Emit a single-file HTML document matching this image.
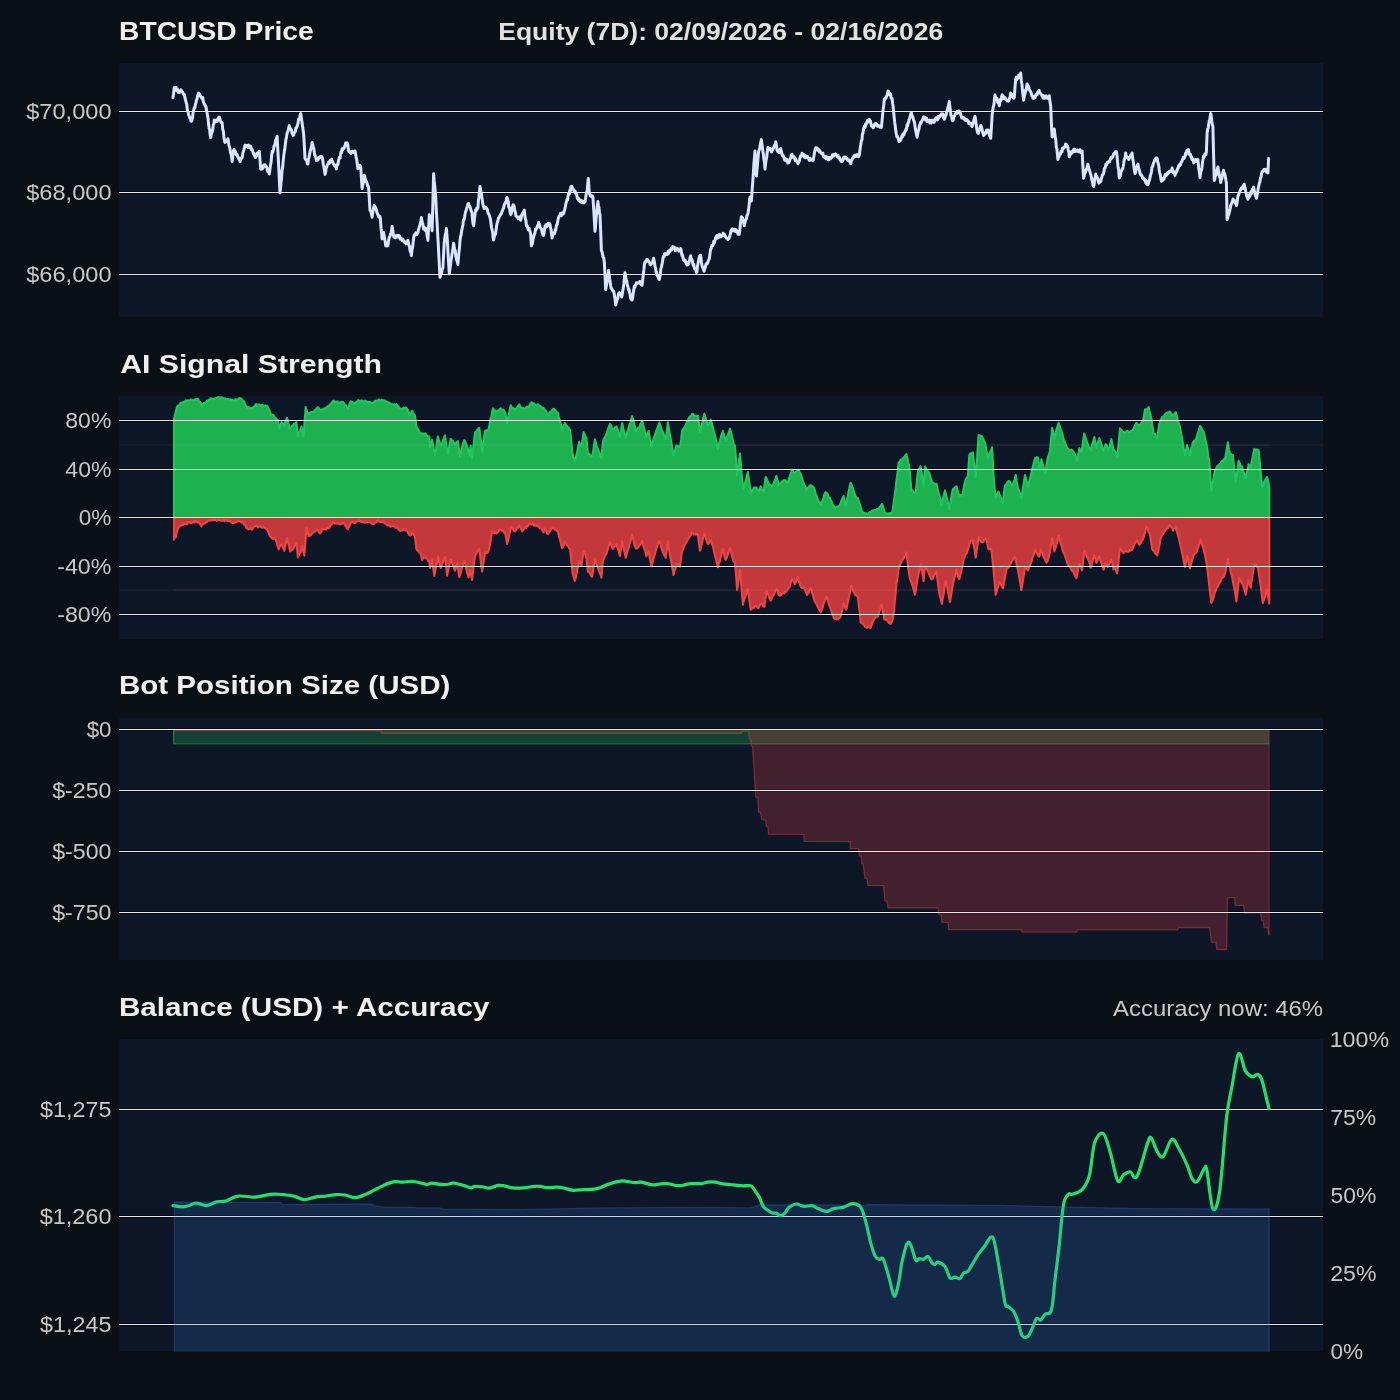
<!DOCTYPE html>
<html><head><meta charset="utf-8"><title>BTCUSD Equity</title>
<style>html,body{margin:0;padding:0;background:#0b0f16;width:1400px;height:1400px;overflow:hidden;font-family:"Liberation Sans",sans-serif}</style>
</head><body>
<svg width="1400" height="1400" viewBox="0 0 1400 1400" style="position:absolute;left:0;top:0">
<rect width="1400" height="1400" fill="#0b0f16"/>
<rect x="119" y="63" width="1204" height="254" fill="#0e1727"/>
<rect x="119" y="396" width="1204" height="243" fill="#0e1727"/>
<rect x="119" y="718" width="1204" height="242" fill="#0e1727"/>
<rect x="119" y="1039" width="1204" height="312" fill="#0e1727"/>
<clipPath id="c1"><rect x="119" y="63" width="1204" height="254"/></clipPath>
<rect x="119" y="110.0" width="1204" height="3" fill="#000308" fill-opacity="0.55"/>
<rect x="119" y="191.0" width="1204" height="3" fill="#000308" fill-opacity="0.55"/>
<rect x="119" y="273.0" width="1204" height="3" fill="#000308" fill-opacity="0.55"/>
<line x1="119" x2="1323" y1="111.5" y2="111.5" stroke="#e8e8e8" stroke-width="1.15"/>
<line x1="119" x2="1323" y1="192.5" y2="192.5" stroke="#e8e8e8" stroke-width="1.15"/>
<line x1="119" x2="1323" y1="274.5" y2="274.5" stroke="#e8e8e8" stroke-width="1.15"/>
<path d="M172.9,97.7 L173.6,93.4 L174.3,87.4 L174.8,88.5 L175.3,89.0 L175.8,87.5 L176.3,87.7 L176.8,90.7 L177.3,89.2 L177.8,89.5 L178.3,92.3 L178.8,91.0 L179.3,92.5 L179.9,91.2 L180.4,91.6 L181.0,89.9 L181.6,91.3 L182.1,91.9 L182.7,92.1 L183.3,94.1 L183.9,95.1 L184.4,94.5 L185.0,98.0 L185.6,100.3 L186.1,102.2 L186.7,104.2 L187.3,109.7 L187.9,111.3 L188.4,113.6 L188.9,115.5 L189.4,116.4 L189.9,118.5 L190.4,118.2 L190.9,121.0 L191.4,121.3 L192.0,120.3 L192.6,117.5 L193.1,112.4 L193.7,110.0 L194.3,107.7 L194.8,108.1 L195.4,104.4 L195.9,103.1 L196.4,100.1 L197.0,98.8 L197.5,96.4 L198.0,94.3 L198.6,93.1 L199.1,93.7 L199.6,95.4 L200.1,95.3 L200.6,96.7 L201.1,97.1 L201.6,98.1 L202.1,97.7 L202.7,97.5 L203.2,101.2 L203.8,102.9 L204.3,104.2 L204.8,104.5 L205.4,106.4 L205.9,106.2 L206.4,109.6 L207.0,112.5 L207.5,115.2 L208.0,118.2 L208.6,124.3 L209.1,128.4 L209.6,129.2 L210.2,135.2 L210.7,137.6 L211.2,134.4 L211.7,132.5 L212.2,131.7 L212.8,129.7 L213.3,124.7 L213.8,124.1 L214.3,120.0 L214.8,121.8 L215.3,120.3 L215.8,121.8 L216.3,121.8 L216.8,120.0 L217.3,121.3 L217.8,118.8 L218.3,117.8 L218.8,119.2 L219.3,117.1 L219.9,118.7 L220.4,120.6 L221.0,122.4 L221.6,122.0 L222.1,122.8 L222.7,129.2 L223.3,131.1 L223.9,136.9 L224.4,140.4 L225.0,142.5 L225.6,141.9 L226.1,141.2 L226.7,140.7 L227.3,139.7 L227.9,138.8 L228.4,141.6 L228.9,145.3 L229.5,146.6 L230.0,149.1 L230.5,152.7 L231.1,153.8 L231.6,156.7 L232.1,161.5 L232.9,155.1 L233.6,150.2 L234.1,149.3 L234.6,151.4 L235.1,152.7 L235.6,151.7 L236.1,154.5 L236.6,155.3 L237.1,154.3 L237.7,156.9 L238.2,157.2 L238.7,158.7 L239.2,158.5 L239.7,160.5 L240.2,161.4 L240.7,159.9 L241.2,158.1 L241.8,158.1 L242.3,157.0 L242.9,152.8 L243.4,151.5 L243.9,149.9 L244.5,147.1 L245.0,145.3 L245.5,145.2 L246.0,145.6 L246.6,146.4 L247.1,145.6 L247.6,146.0 L248.1,147.4 L248.6,145.1 L249.2,147.0 L249.7,147.6 L250.2,146.4 L250.7,146.3 L251.2,149.4 L251.8,148.8 L252.3,149.9 L252.9,151.9 L253.4,154.0 L253.9,153.4 L254.5,155.3 L255.0,156.6 L255.5,157.5 L256.1,155.5 L256.6,156.1 L257.1,153.2 L257.7,153.0 L258.2,153.3 L258.8,153.4 L259.3,151.3 L260.0,159.8 L260.7,168.8 L261.2,169.4 L261.8,167.6 L262.3,168.8 L262.9,168.2 L263.4,165.4 L263.9,165.0 L264.5,166.0 L265.0,164.7 L265.5,166.5 L266.1,166.3 L266.6,166.9 L267.1,168.6 L267.7,171.5 L268.2,171.1 L268.8,172.5 L269.3,174.0 L269.9,169.7 L270.4,165.4 L271.0,162.8 L271.6,156.0 L272.1,151.3 L272.6,152.6 L273.1,150.6 L273.6,149.3 L274.1,145.8 L274.6,145.7 L275.1,143.9 L275.6,140.0 L276.1,139.9 L276.6,138.5 L277.1,136.2 L277.7,147.5 L278.3,158.5 L278.9,170.3 L279.4,181.7 L280.0,192.9 L280.5,189.1 L281.0,182.6 L281.5,178.7 L282.0,170.8 L282.6,168.0 L283.1,161.8 L283.6,157.1 L284.1,153.3 L284.7,149.6 L285.3,144.8 L285.9,139.3 L286.4,137.9 L287.0,133.8 L287.6,131.9 L288.1,130.8 L288.7,128.1 L289.3,125.4 L289.8,128.4 L290.4,128.6 L290.9,129.0 L291.4,129.9 L292.0,133.1 L292.5,133.1 L293.0,135.4 L293.6,135.2 L294.1,133.0 L294.7,132.4 L295.3,131.6 L295.9,127.8 L296.4,128.1 L297.0,126.9 L297.5,124.9 L298.0,123.4 L298.6,119.1 L299.1,119.5 L299.6,118.7 L300.2,114.5 L300.7,113.6 L301.3,117.3 L301.9,121.8 L302.4,125.2 L303.0,129.1 L303.6,133.7 L304.3,144.8 L305.0,158.6 L305.6,159.4 L306.1,159.9 L306.7,160.3 L307.3,163.8 L307.9,164.0 L308.4,159.0 L308.9,157.9 L309.5,154.8 L310.0,152.3 L310.5,149.9 L311.1,148.3 L311.6,145.6 L312.1,142.4 L312.7,144.2 L313.2,147.0 L313.8,148.6 L314.3,152.3 L314.8,155.2 L315.4,156.4 L315.9,157.8 L316.4,160.4 L317.0,160.2 L317.6,160.0 L318.1,159.8 L318.7,157.6 L319.3,158.1 L319.9,157.4 L320.4,156.6 L321.0,156.3 L321.6,156.6 L322.1,157.1 L322.7,159.7 L323.3,164.2 L323.9,167.0 L324.4,169.9 L325.0,174.4 L325.6,172.6 L326.1,168.3 L326.7,167.2 L327.3,164.9 L327.9,164.1 L328.4,163.9 L328.9,161.7 L329.5,163.1 L330.0,162.4 L330.5,160.3 L331.1,160.6 L331.6,159.2 L332.1,161.0 L332.7,161.6 L333.2,163.4 L333.8,164.2 L334.3,164.8 L334.8,166.1 L335.4,166.6 L335.9,166.2 L336.4,168.9 L336.9,165.3 L337.5,164.1 L338.0,164.4 L338.5,160.4 L339.0,158.8 L339.5,157.2 L340.1,158.0 L340.6,154.0 L341.1,151.9 L341.6,152.8 L342.1,148.8 L342.6,150.3 L343.1,149.0 L343.6,148.7 L344.1,148.3 L344.6,146.3 L345.1,146.2 L345.6,143.0 L346.1,144.6 L346.6,143.0 L347.1,142.8 L347.7,143.6 L348.2,148.3 L348.8,151.6 L349.3,151.5 L349.8,152.2 L350.3,152.8 L350.8,153.5 L351.4,151.5 L351.9,151.2 L352.4,151.3 L352.9,152.3 L353.4,152.6 L354.0,151.3 L354.5,151.1 L355.0,151.1 L355.6,154.1 L356.1,157.5 L356.7,159.5 L357.3,164.0 L357.9,168.7 L358.4,166.6 L359.0,167.4 L359.6,165.2 L360.1,166.6 L360.7,166.5 L361.4,177.7 L362.1,188.6 L362.7,185.5 L363.2,183.0 L363.8,180.7 L364.3,175.3 L364.8,176.4 L365.4,179.7 L365.9,181.5 L366.4,181.5 L367.0,183.0 L367.5,185.7 L368.0,185.8 L368.6,187.8 L369.3,198.3 L370.0,210.3 L370.5,210.8 L371.1,212.0 L371.6,214.9 L372.1,217.2 L372.7,212.2 L373.2,210.7 L373.8,206.9 L374.3,205.4 L374.8,206.3 L375.4,207.1 L375.9,208.7 L376.4,209.9 L377.0,212.8 L377.5,213.9 L378.0,214.7 L378.6,216.7 L379.3,215.9 L380.0,216.6 L380.5,220.3 L381.1,228.7 L381.6,232.8 L382.1,238.9 L382.9,234.9 L383.6,232.5 L384.1,235.9 L384.6,238.4 L385.2,241.5 L385.7,245.7 L386.2,246.0 L386.8,244.3 L387.3,245.2 L387.9,245.8 L388.4,242.0 L388.9,239.1 L389.5,237.0 L390.0,236.4 L390.5,234.1 L391.1,232.9 L391.6,230.4 L392.1,226.3 L392.9,231.1 L393.6,236.4 L394.1,236.0 L394.6,237.4 L395.2,237.8 L395.7,237.7 L396.2,235.5 L396.8,237.2 L397.3,235.3 L397.9,235.5 L398.4,237.0 L399.0,235.5 L399.6,236.1 L400.1,239.1 L400.7,237.9 L401.2,238.6 L401.8,239.9 L402.3,240.7 L402.9,239.1 L403.4,240.7 L403.9,241.6 L404.5,242.3 L405.0,241.9 L405.6,242.8 L406.1,243.7 L406.7,241.7 L407.3,241.9 L407.9,240.2 L408.4,242.5 L408.9,245.6 L409.4,245.7 L409.9,250.0 L410.4,251.9 L410.9,251.2 L411.4,255.7 L412.0,249.9 L412.6,247.2 L413.1,243.1 L413.7,237.6 L414.3,234.8 L414.8,234.6 L415.3,234.9 L415.8,232.9 L416.3,234.3 L416.8,234.7 L417.3,233.6 L417.9,233.0 L418.4,229.6 L418.9,228.8 L419.4,226.3 L419.9,225.4 L420.4,223.2 L420.9,220.8 L421.4,217.6 L422.0,221.4 L422.5,223.6 L423.0,224.5 L423.6,229.1 L424.1,228.8 L424.7,227.5 L425.3,230.5 L425.9,228.4 L426.4,229.5 L427.1,235.7 L427.9,240.3 L428.6,227.3 L429.3,214.8 L429.9,217.3 L430.4,220.0 L431.0,222.7 L431.6,225.5 L432.1,230.7 L432.9,202.6 L433.6,173.7 L434.1,180.2 L434.6,184.9 L435.2,190.5 L435.7,196.8 L436.4,211.9 L437.1,222.8 L437.7,235.0 L438.3,244.9 L438.9,257.3 L439.4,266.7 L440.0,277.3 L440.6,275.4 L441.1,273.7 L441.7,272.3 L442.3,268.8 L442.9,268.3 L443.6,253.8 L444.3,242.1 L444.8,237.8 L445.4,234.1 L445.9,232.5 L446.4,228.6 L447.0,235.8 L447.6,244.9 L448.1,254.6 L448.7,264.6 L449.3,273.9 L449.8,270.1 L450.4,266.0 L450.9,261.0 L451.4,258.2 L452.0,254.0 L452.5,251.5 L453.0,248.1 L453.6,243.3 L454.1,246.0 L454.6,250.2 L455.2,250.3 L455.7,255.3 L456.2,258.0 L456.8,260.7 L457.3,261.4 L457.9,264.5 L458.4,258.5 L458.9,252.6 L459.5,247.6 L460.0,240.6 L460.6,236.2 L461.1,234.9 L461.7,230.5 L462.3,227.8 L462.9,225.0 L463.4,220.1 L464.0,220.0 L464.6,217.1 L465.1,214.0 L465.7,211.5 L466.3,209.7 L466.9,207.3 L467.4,206.8 L468.0,203.7 L468.6,203.6 L469.1,205.3 L469.7,206.0 L470.3,207.6 L470.9,210.2 L471.4,211.3 L472.0,213.1 L472.5,219.5 L473.0,223.3 L473.6,225.7 L474.1,222.4 L474.6,217.7 L475.2,212.9 L475.7,210.1 L476.2,210.7 L476.8,208.0 L477.3,209.0 L477.9,207.8 L478.4,200.4 L478.9,197.2 L479.5,190.9 L480.0,186.4 L480.5,188.9 L481.0,192.1 L481.5,194.0 L482.0,198.6 L482.6,202.2 L483.1,205.1 L483.6,206.9 L484.1,208.4 L484.6,207.9 L485.1,207.1 L485.6,207.3 L486.1,207.8 L486.6,208.6 L487.1,208.9 L487.7,211.4 L488.3,213.5 L488.9,214.4 L489.4,215.5 L490.0,217.6 L490.5,219.7 L491.0,223.4 L491.5,227.5 L492.0,229.5 L492.6,231.9 L493.1,237.4 L493.6,240.0 L494.1,237.3 L494.6,235.7 L495.2,234.6 L495.7,233.2 L496.2,228.8 L496.8,224.8 L497.3,222.3 L497.9,220.9 L498.4,218.0 L498.9,218.1 L499.5,216.3 L500.0,215.5 L500.5,214.5 L501.1,214.3 L501.6,212.7 L502.1,211.3 L502.6,210.1 L503.1,208.8 L503.6,208.3 L504.1,205.4 L504.6,203.8 L505.1,203.7 L505.6,202.1 L506.1,201.5 L506.6,197.9 L507.1,197.5 L507.7,200.1 L508.2,201.4 L508.7,207.0 L509.2,207.2 L509.7,209.3 L510.2,213.1 L510.7,214.6 L511.3,213.8 L511.9,210.7 L512.4,207.7 L513.0,205.1 L513.6,205.0 L514.1,206.1 L514.7,210.3 L515.3,211.9 L515.9,216.0 L516.4,216.5 L517.0,216.5 L517.5,216.8 L518.0,218.7 L518.6,218.3 L519.1,217.5 L519.6,216.9 L520.2,219.0 L520.7,220.1 L521.2,217.8 L521.7,214.9 L522.2,214.0 L522.8,213.2 L523.3,212.4 L523.8,211.0 L524.3,210.0 L524.8,215.1 L525.4,219.1 L525.9,220.1 L526.4,225.8 L527.0,225.3 L527.5,227.4 L528.0,228.8 L528.6,230.0 L529.1,228.2 L529.6,230.1 L530.2,232.1 L530.7,234.3 L531.4,245.8 L531.9,244.2 L532.4,243.8 L533.0,239.2 L533.5,237.8 L534.0,235.4 L534.5,234.2 L535.0,232.8 L535.5,229.2 L536.0,229.7 L536.5,228.5 L537.0,227.6 L537.6,225.5 L538.1,225.4 L538.6,222.4 L539.1,223.9 L539.6,224.6 L540.1,227.6 L540.6,227.9 L541.1,228.5 L541.6,229.5 L542.1,232.6 L542.6,233.5 L543.1,235.1 L543.6,235.4 L544.3,231.4 L545.0,226.0 L545.5,227.4 L546.0,224.8 L546.5,225.8 L547.0,226.3 L547.5,225.6 L548.0,223.3 L548.5,223.3 L549.0,224.8 L549.5,223.7 L550.0,224.1 L550.5,227.6 L551.1,229.8 L551.6,234.8 L552.1,237.9 L552.7,235.6 L553.2,234.7 L553.7,232.7 L554.2,232.7 L554.7,233.5 L555.2,229.8 L555.7,230.2 L556.2,226.7 L556.7,224.6 L557.2,224.4 L557.8,221.0 L558.3,218.4 L558.8,216.6 L559.3,216.2 L559.8,215.6 L560.4,213.4 L560.9,213.8 L561.4,215.8 L562.0,213.0 L562.5,213.8 L563.0,213.0 L563.6,213.8 L564.1,211.2 L564.7,209.8 L565.3,207.0 L565.9,203.9 L566.4,201.8 L567.0,199.5 L567.6,199.9 L568.1,195.6 L568.7,193.3 L569.3,194.3 L569.8,190.3 L570.4,190.9 L570.9,186.7 L571.4,186.3 L571.9,186.3 L572.4,188.9 L573.0,188.9 L573.5,189.7 L574.0,190.8 L574.5,191.9 L575.0,190.9 L575.6,193.2 L576.1,194.1 L576.7,194.5 L577.3,198.2 L577.9,198.9 L578.4,200.1 L578.9,198.7 L579.5,200.3 L580.0,200.6 L580.5,202.0 L581.1,200.4 L581.6,201.8 L582.1,202.8 L582.7,201.2 L583.3,202.5 L583.9,202.8 L584.4,201.5 L585.0,201.9 L585.5,198.9 L586.1,194.8 L586.6,192.4 L587.1,191.6 L587.7,183.8 L588.3,178.4 L588.8,185.1 L589.3,193.4 L589.8,193.4 L590.3,196.1 L590.8,195.6 L591.3,196.3 L591.8,196.9 L592.3,195.9 L592.9,197.1 L593.4,204.4 L593.9,212.6 L594.5,222.9 L595.0,231.3 L595.6,225.4 L596.1,217.9 L596.7,212.9 L597.3,205.7 L597.9,201.6 L598.4,205.3 L598.9,207.2 L599.5,213.2 L600.0,214.7 L600.7,231.6 L601.4,250.7 L602.0,251.6 L602.6,254.6 L603.1,257.3 L603.7,257.7 L604.3,262.2 L605.0,275.0 L605.7,289.8 L606.3,285.8 L606.9,283.3 L607.4,279.6 L608.0,274.5 L608.6,270.2 L609.1,274.7 L609.6,279.0 L610.2,281.9 L610.7,286.0 L611.3,288.6 L611.9,288.9 L612.4,290.4 L613.0,291.0 L613.6,291.2 L614.1,293.3 L614.6,296.4 L615.2,300.6 L615.7,304.9 L616.2,303.1 L616.7,301.3 L617.2,298.7 L617.8,298.4 L618.3,294.6 L618.8,293.2 L619.3,292.7 L619.9,293.6 L620.4,293.1 L621.0,294.0 L621.6,297.0 L622.1,295.6 L622.7,291.4 L623.3,288.1 L623.9,283.5 L624.4,277.8 L625.0,272.8 L625.6,275.6 L626.1,279.7 L626.7,281.0 L627.3,285.0 L627.9,286.6 L628.4,289.8 L629.0,289.4 L629.6,292.4 L630.1,294.4 L630.7,298.4 L631.4,299.5 L632.1,300.0 L632.7,298.0 L633.2,293.0 L633.8,290.1 L634.3,286.3 L634.8,287.4 L635.4,285.5 L635.9,284.2 L636.4,282.8 L637.0,283.3 L637.5,283.3 L638.0,282.7 L638.6,282.7 L639.1,282.8 L639.6,281.4 L640.1,281.5 L640.6,283.9 L641.1,284.4 L641.6,283.9 L642.1,285.3 L642.7,279.9 L643.3,274.4 L643.9,269.5 L644.4,264.5 L645.0,261.9 L645.6,262.1 L646.1,261.6 L646.7,259.6 L647.3,259.7 L647.9,259.9 L648.4,261.0 L649.0,261.8 L649.6,262.6 L650.1,264.3 L650.7,264.7 L651.3,263.3 L651.9,263.4 L652.4,263.0 L653.0,260.2 L653.6,258.3 L654.1,260.5 L654.6,263.3 L655.1,266.9 L655.6,268.2 L656.1,272.3 L656.6,272.2 L657.1,275.1 L657.7,276.5 L658.2,276.9 L658.8,279.0 L659.3,279.6 L659.8,277.1 L660.4,273.2 L660.9,268.5 L661.4,267.4 L662.0,264.4 L662.5,261.4 L663.0,257.9 L663.6,256.4 L664.1,256.6 L664.6,253.7 L665.1,255.1 L665.6,253.7 L666.2,253.8 L666.7,254.6 L667.2,254.5 L667.7,253.1 L668.2,251.2 L668.8,253.2 L669.3,250.4 L669.8,250.4 L670.3,251.3 L670.8,249.0 L671.3,248.2 L671.8,249.8 L672.3,249.2 L672.9,246.6 L673.4,247.2 L673.9,247.3 L674.4,247.2 L674.9,248.0 L675.4,250.7 L675.9,248.2 L676.4,249.1 L677.0,249.0 L677.5,248.7 L678.0,250.1 L678.6,250.8 L679.1,251.1 L679.6,250.4 L680.2,251.0 L680.7,248.4 L681.3,251.3 L681.9,255.5 L682.4,254.6 L683.0,257.3 L683.6,259.9 L684.1,259.8 L684.6,261.2 L685.2,260.2 L685.7,261.3 L686.2,264.1 L686.8,262.1 L687.3,265.0 L687.9,263.3 L688.4,264.4 L689.0,262.0 L689.6,260.5 L690.1,257.4 L690.7,255.7 L691.2,259.4 L691.8,259.0 L692.3,260.4 L692.8,263.9 L693.3,265.5 L693.8,264.3 L694.4,268.6 L694.9,268.7 L695.4,269.6 L695.9,270.2 L696.4,272.5 L696.9,271.8 L697.4,266.8 L698.0,263.7 L698.5,261.1 L699.0,258.4 L699.5,256.5 L700.0,255.6 L700.5,255.3 L701.0,258.0 L701.5,262.7 L702.0,265.3 L702.6,267.6 L703.1,267.6 L703.6,270.2 L704.1,271.1 L704.6,268.5 L705.1,268.1 L705.6,265.7 L706.2,263.7 L706.7,263.6 L707.2,263.8 L707.7,262.8 L708.2,261.0 L708.8,259.6 L709.3,258.7 L710.0,253.4 L710.7,248.7 L711.2,248.6 L711.8,245.5 L712.3,245.8 L712.8,245.8 L713.3,244.5 L713.8,241.3 L714.4,242.8 L714.9,241.3 L715.4,238.2 L715.9,237.4 L716.4,236.2 L716.9,235.5 L717.4,238.3 L718.0,236.2 L718.5,237.5 L719.0,234.9 L719.5,234.4 L720.0,236.9 L720.5,236.5 L721.0,236.9 L721.5,235.7 L722.0,235.0 L722.6,235.5 L723.1,233.2 L723.6,234.4 L724.1,234.8 L724.6,234.6 L725.2,236.7 L725.7,236.6 L726.2,237.9 L726.8,238.2 L727.3,238.7 L727.9,239.5 L728.4,238.9 L728.9,238.7 L729.4,237.1 L729.9,235.4 L730.4,233.9 L730.9,230.7 L731.4,231.5 L731.9,229.3 L732.4,228.8 L732.9,230.0 L733.4,230.7 L733.9,229.5 L734.4,230.5 L734.9,229.3 L735.4,231.5 L735.9,229.8 L736.4,229.9 L737.0,231.0 L737.6,232.9 L738.1,234.1 L738.7,233.5 L739.3,234.1 L739.8,230.0 L740.4,223.6 L740.9,220.1 L741.4,216.8 L742.0,218.3 L742.6,217.7 L743.1,222.0 L743.7,222.2 L744.3,225.8 L745.0,222.4 L745.5,220.1 L746.0,219.3 L746.5,218.6 L747.0,215.3 L747.6,214.8 L748.1,212.5 L748.6,209.6 L749.3,202.9 L750.0,197.2 L750.7,199.0 L751.4,201.0 L752.1,190.5 L752.9,179.8 L753.4,172.1 L753.9,163.9 L754.5,157.3 L755.0,151.0 L755.7,164.7 L756.4,176.0 L757.0,169.7 L757.5,164.4 L758.0,158.2 L758.6,151.4 L759.1,150.1 L759.7,148.5 L760.3,144.4 L760.9,142.2 L761.4,139.6 L762.1,145.4 L762.9,151.3 L763.4,154.3 L763.9,159.5 L764.5,162.2 L765.0,169.1 L765.6,163.6 L766.1,160.1 L766.7,157.5 L767.3,151.7 L767.9,147.6 L768.4,150.0 L768.9,149.6 L769.5,148.3 L770.0,148.5 L770.5,149.9 L771.1,149.1 L771.6,152.1 L772.1,150.4 L772.7,149.4 L773.2,148.4 L773.7,147.5 L774.2,145.9 L774.7,145.2 L775.2,144.0 L775.7,141.9 L776.2,143.5 L776.8,149.0 L777.3,150.8 L777.9,151.5 L778.4,152.1 L779.0,152.5 L779.6,152.7 L780.1,149.2 L780.7,148.4 L781.2,151.2 L781.7,152.2 L782.2,154.9 L782.8,155.9 L783.3,155.6 L783.8,157.1 L784.3,158.8 L784.8,160.2 L785.3,158.5 L785.8,159.5 L786.3,159.0 L786.8,161.2 L787.3,159.6 L787.8,163.0 L788.3,162.1 L788.8,162.7 L789.3,161.5 L789.8,159.9 L790.4,158.5 L790.9,157.6 L791.4,154.4 L792.0,154.3 L792.5,157.3 L793.0,156.9 L793.6,157.2 L794.1,156.9 L794.6,157.9 L795.2,160.6 L795.7,158.8 L796.2,160.8 L796.8,161.8 L797.3,161.7 L797.9,163.7 L798.4,163.1 L798.9,161.9 L799.5,160.4 L800.0,157.6 L800.5,156.1 L801.1,156.2 L801.6,154.8 L802.1,153.3 L802.7,155.8 L803.2,154.1 L803.8,156.4 L804.3,157.1 L804.8,154.9 L805.4,157.8 L805.9,156.5 L806.4,156.2 L807.0,156.5 L807.5,156.4 L808.0,158.2 L808.6,158.2 L809.1,160.1 L809.6,160.4 L810.2,158.2 L810.7,159.7 L811.2,160.0 L811.8,159.7 L812.3,160.3 L812.9,160.7 L813.4,159.3 L814.0,155.5 L814.6,152.0 L815.1,149.7 L815.7,147.7 L816.2,148.5 L816.7,147.9 L817.2,149.8 L817.7,148.7 L818.2,150.5 L818.7,150.8 L819.2,149.8 L819.7,152.1 L820.2,151.4 L820.7,152.3 L821.2,153.1 L821.8,153.8 L822.3,153.8 L822.9,153.2 L823.4,156.2 L823.9,157.0 L824.5,156.5 L825.0,157.4 L825.5,156.5 L826.0,158.7 L826.5,158.2 L827.0,156.8 L827.5,158.9 L828.0,159.6 L828.5,157.6 L829.0,159.9 L829.5,158.4 L830.0,157.5 L830.5,158.8 L831.0,157.1 L831.5,157.8 L832.0,156.8 L832.5,154.8 L833.0,155.7 L833.5,156.2 L834.0,154.5 L834.5,154.2 L835.0,154.7 L835.5,153.9 L836.0,154.6 L836.5,155.4 L837.0,156.6 L837.6,155.2 L838.1,155.3 L838.6,158.0 L839.1,157.8 L839.6,157.5 L840.1,159.9 L840.6,160.4 L841.1,159.8 L841.6,161.8 L842.1,161.8 L842.7,160.8 L843.3,158.6 L843.9,157.0 L844.4,158.4 L845.0,157.9 L845.5,157.2 L846.0,158.1 L846.6,158.9 L847.1,158.4 L847.6,160.4 L848.1,160.5 L848.6,160.4 L849.2,160.0 L849.7,162.0 L850.2,161.8 L850.7,163.6 L851.3,160.7 L851.9,160.2 L852.4,158.5 L853.0,158.0 L853.6,157.4 L854.1,155.7 L854.6,155.3 L855.1,156.5 L855.6,155.4 L856.2,156.2 L856.7,154.9 L857.2,154.5 L857.7,155.7 L858.2,156.7 L858.8,156.4 L859.3,155.0 L859.8,151.3 L860.4,146.8 L860.9,144.1 L861.4,140.8 L862.0,139.6 L862.5,133.8 L863.0,133.2 L863.6,128.5 L864.1,127.5 L864.6,126.0 L865.1,127.3 L865.6,123.9 L866.2,124.3 L866.7,123.2 L867.2,121.2 L867.7,120.4 L868.2,121.9 L868.8,120.4 L869.3,119.3 L869.9,121.6 L870.4,120.7 L871.0,124.4 L871.6,126.2 L872.1,126.3 L872.7,126.6 L873.2,127.8 L873.7,125.4 L874.2,126.3 L874.7,124.0 L875.2,125.2 L875.7,123.5 L876.2,124.6 L876.8,124.4 L877.3,126.2 L877.8,126.1 L878.3,125.6 L878.8,126.4 L879.4,125.9 L879.9,127.3 L880.4,125.8 L880.9,127.0 L881.4,127.4 L882.0,121.4 L882.6,114.8 L883.1,109.8 L883.7,105.9 L884.3,99.1 L884.8,99.8 L885.4,97.9 L885.9,98.2 L886.4,96.8 L887.0,95.4 L887.5,93.2 L888.0,91.0 L888.6,91.6 L889.1,93.2 L889.6,94.8 L890.1,93.5 L890.6,94.4 L891.1,98.1 L891.6,98.3 L892.1,98.5 L892.7,104.0 L893.2,106.8 L893.7,112.8 L894.2,117.9 L894.7,122.4 L895.2,125.7 L895.7,130.3 L896.3,133.8 L896.9,136.7 L897.4,136.3 L898.0,137.9 L898.6,140.1 L899.1,141.6 L899.6,139.7 L900.2,139.1 L900.7,140.2 L901.2,138.2 L901.8,136.4 L902.3,137.1 L902.9,134.1 L903.4,134.3 L903.9,134.9 L904.5,132.5 L905.0,131.4 L905.5,131.3 L906.0,129.0 L906.5,129.5 L907.0,125.1 L907.6,125.7 L908.1,122.7 L908.6,122.4 L909.1,119.5 L909.7,118.5 L910.3,115.7 L910.9,113.7 L911.4,112.7 L912.0,115.8 L912.6,116.4 L913.1,118.0 L913.7,120.6 L914.3,121.6 L914.9,125.3 L915.4,129.1 L916.0,132.0 L916.6,135.2 L917.1,137.2 L917.7,133.6 L918.3,130.9 L918.9,129.2 L919.4,126.0 L920.0,124.5 L920.5,122.5 L921.0,123.1 L921.5,121.5 L922.0,120.7 L922.6,119.9 L923.1,118.2 L923.6,116.9 L924.3,117.2 L925.0,117.2 L925.5,119.9 L926.1,119.3 L926.6,118.4 L927.1,121.4 L927.7,120.6 L928.2,121.1 L928.8,120.9 L929.3,120.2 L929.8,123.0 L930.4,120.4 L930.9,121.0 L931.4,123.0 L932.0,120.2 L932.5,121.4 L933.0,121.4 L933.6,120.6 L934.1,122.4 L934.6,120.4 L935.1,118.7 L935.6,119.8 L936.2,117.9 L936.7,119.8 L937.2,119.9 L937.7,119.6 L938.2,116.5 L938.8,118.1 L939.3,116.5 L939.9,116.5 L940.4,115.4 L941.0,114.8 L941.6,113.7 L942.1,114.7 L942.7,113.8 L943.3,117.5 L943.9,115.4 L944.4,119.2 L945.0,117.6 L945.6,115.0 L946.1,114.8 L946.7,111.8 L947.3,110.3 L947.9,107.2 L948.6,105.4 L949.3,101.5 L949.9,107.1 L950.4,110.3 L951.0,115.5 L951.6,116.1 L952.1,120.0 L952.7,120.6 L953.3,119.9 L953.9,116.9 L954.4,116.4 L955.0,114.5 L955.5,113.6 L956.1,113.5 L956.6,113.5 L957.1,111.3 L957.7,111.9 L958.2,112.9 L958.8,111.0 L959.3,111.3 L959.8,111.7 L960.3,113.0 L960.8,115.0 L961.3,116.3 L961.8,118.0 L962.3,117.5 L962.9,117.6 L963.4,118.3 L963.9,117.7 L964.4,118.6 L964.9,120.0 L965.4,120.4 L965.9,119.5 L966.4,119.6 L966.9,119.6 L967.4,120.1 L967.9,121.4 L968.4,121.2 L968.9,123.7 L969.5,123.2 L970.0,123.1 L970.5,123.9 L971.1,123.2 L971.6,125.9 L972.1,126.5 L972.7,123.6 L973.3,123.0 L973.9,119.8 L974.4,118.0 L975.0,116.3 L975.6,119.6 L976.1,124.3 L976.7,127.9 L977.3,131.6 L977.9,133.0 L978.4,133.4 L979.0,130.8 L979.6,128.8 L980.1,127.4 L980.7,125.5 L981.3,126.5 L981.9,128.8 L982.4,131.3 L983.0,133.3 L983.6,135.6 L984.1,132.8 L984.6,134.5 L985.2,133.6 L985.7,132.8 L986.2,133.1 L986.8,129.9 L987.3,131.4 L987.9,131.3 L988.4,130.2 L989.0,133.2 L989.6,135.7 L990.1,135.1 L990.7,138.3 L991.4,127.7 L992.1,115.5 L992.7,110.6 L993.3,106.8 L993.9,104.8 L994.4,99.5 L995.0,95.1 L995.5,96.6 L996.1,99.2 L996.6,98.1 L997.1,98.5 L997.7,102.5 L998.2,101.6 L998.8,102.8 L999.3,105.8 L999.9,101.9 L1000.4,99.5 L1001.0,100.4 L1001.6,96.6 L1002.1,94.8 L1002.7,97.6 L1003.2,95.9 L1003.7,98.6 L1004.2,97.3 L1004.7,97.7 L1005.3,97.9 L1005.8,99.5 L1006.3,100.1 L1006.8,100.1 L1007.3,100.9 L1007.9,100.8 L1008.4,101.1 L1009.0,100.0 L1009.6,98.0 L1010.1,96.7 L1010.7,92.9 L1011.2,93.9 L1011.7,94.2 L1012.2,94.4 L1012.8,97.4 L1013.3,97.6 L1013.8,98.1 L1014.3,97.3 L1015.0,87.0 L1015.7,79.1 L1016.2,77.4 L1016.7,79.6 L1017.2,77.0 L1017.7,76.6 L1018.2,78.2 L1018.7,75.3 L1019.2,77.1 L1019.7,74.7 L1020.2,75.3 L1020.7,73.0 L1021.3,80.7 L1021.9,84.2 L1022.4,89.2 L1023.0,95.4 L1023.6,100.3 L1024.1,97.1 L1024.6,94.5 L1025.1,93.8 L1025.6,89.9 L1026.1,90.5 L1026.6,86.6 L1027.1,83.9 L1027.7,85.6 L1028.2,86.0 L1028.8,87.8 L1029.3,89.7 L1029.8,90.4 L1030.4,91.3 L1030.9,92.2 L1031.4,94.0 L1032.0,96.1 L1032.5,96.1 L1033.0,98.3 L1033.6,98.5 L1034.1,96.6 L1034.6,96.1 L1035.1,97.5 L1035.6,95.6 L1036.1,94.6 L1036.6,94.3 L1037.1,94.7 L1037.6,92.5 L1038.1,91.7 L1038.6,91.0 L1039.1,90.4 L1039.6,92.7 L1040.1,93.1 L1040.6,93.7 L1041.1,94.1 L1041.6,94.8 L1042.1,96.1 L1042.6,95.0 L1043.1,98.1 L1043.6,95.9 L1044.1,98.3 L1044.6,96.1 L1045.1,98.1 L1045.6,96.4 L1046.2,95.8 L1046.7,97.3 L1047.2,98.2 L1047.7,98.2 L1048.2,98.3 L1048.8,98.7 L1049.3,95.7 L1050.0,101.8 L1050.7,105.9 L1051.4,123.0 L1052.1,137.0 L1052.7,135.8 L1053.2,133.8 L1053.8,132.3 L1054.3,129.1 L1054.8,134.1 L1055.3,137.3 L1055.8,140.1 L1056.3,147.0 L1056.8,148.7 L1057.3,153.0 L1057.9,159.6 L1058.4,156.8 L1058.9,157.0 L1059.4,153.9 L1059.9,153.5 L1060.5,154.1 L1061.0,150.9 L1061.5,151.3 L1062.0,151.7 L1062.5,148.3 L1063.1,148.8 L1063.6,147.9 L1064.1,147.1 L1064.6,147.2 L1065.1,146.6 L1065.6,144.0 L1066.1,144.1 L1066.6,144.8 L1067.1,145.8 L1067.7,146.2 L1068.2,150.3 L1068.8,151.7 L1069.3,156.8 L1069.8,154.8 L1070.4,154.4 L1070.9,154.1 L1071.4,151.7 L1072.0,152.9 L1072.5,152.4 L1073.0,151.9 L1073.6,149.3 L1074.1,149.2 L1074.6,149.1 L1075.1,151.5 L1075.6,150.1 L1076.1,150.1 L1076.6,150.6 L1077.1,151.2 L1077.6,150.1 L1078.1,150.2 L1078.6,151.7 L1079.1,151.8 L1079.6,150.4 L1080.1,149.7 L1080.6,152.5 L1081.1,152.0 L1081.6,151.6 L1082.1,151.1 L1082.9,166.5 L1083.6,178.3 L1084.1,175.9 L1084.6,173.7 L1085.2,172.7 L1085.7,171.8 L1086.2,169.2 L1086.8,169.3 L1087.3,166.6 L1087.9,164.2 L1088.4,166.8 L1089.0,168.6 L1089.6,170.7 L1090.1,172.3 L1090.7,174.4 L1091.3,176.8 L1091.9,180.5 L1092.4,181.0 L1093.0,185.5 L1093.6,186.5 L1094.1,185.0 L1094.6,179.3 L1095.2,177.5 L1095.7,174.1 L1096.2,176.4 L1096.7,176.2 L1097.2,177.8 L1097.8,178.8 L1098.3,181.6 L1098.8,183.1 L1099.3,182.7 L1099.8,181.8 L1100.3,180.5 L1100.8,181.5 L1101.3,178.4 L1101.8,177.4 L1102.3,175.0 L1102.9,174.8 L1103.4,173.9 L1103.9,172.0 L1104.4,168.4 L1104.9,168.4 L1105.4,167.1 L1105.9,164.3 L1106.4,165.2 L1106.9,163.1 L1107.4,162.4 L1108.0,162.8 L1108.5,162.1 L1109.0,161.2 L1109.5,161.8 L1110.0,160.1 L1110.5,158.9 L1111.0,157.4 L1111.5,158.3 L1112.0,157.1 L1112.6,157.1 L1113.1,155.8 L1113.6,154.1 L1114.1,153.4 L1114.7,152.9 L1115.3,151.8 L1115.9,153.4 L1116.4,151.7 L1117.0,155.7 L1117.6,162.4 L1118.1,167.3 L1118.7,170.6 L1119.3,177.9 L1119.9,174.8 L1120.4,175.9 L1121.0,171.7 L1121.6,170.7 L1122.1,169.2 L1122.7,168.9 L1123.2,166.5 L1123.7,163.5 L1124.2,159.9 L1124.7,158.5 L1125.2,157.2 L1125.7,152.9 L1126.2,156.2 L1126.7,156.6 L1127.2,157.5 L1127.8,157.4 L1128.3,157.7 L1128.8,159.5 L1129.3,157.8 L1129.9,157.1 L1130.4,155.7 L1131.0,155.0 L1131.6,156.1 L1132.1,153.0 L1132.7,158.8 L1133.3,161.4 L1133.9,166.6 L1134.4,170.0 L1135.0,173.5 L1135.6,172.2 L1136.1,168.0 L1136.7,167.0 L1137.3,165.6 L1137.9,164.1 L1138.4,166.8 L1139.0,169.5 L1139.6,171.1 L1140.1,173.7 L1140.7,174.9 L1141.3,174.7 L1141.9,176.0 L1142.4,177.7 L1143.0,178.7 L1143.6,178.2 L1144.1,178.8 L1144.6,180.4 L1145.2,179.8 L1145.7,182.7 L1146.2,180.9 L1146.8,184.0 L1147.3,184.6 L1147.9,184.7 L1148.4,183.7 L1148.9,181.2 L1149.4,180.6 L1149.9,178.1 L1150.5,175.0 L1151.0,173.7 L1151.5,171.5 L1152.0,167.0 L1152.5,166.9 L1153.1,164.7 L1153.6,163.0 L1154.1,161.7 L1154.6,160.1 L1155.1,159.0 L1155.6,159.9 L1156.1,158.0 L1156.6,159.2 L1157.1,158.1 L1157.7,161.8 L1158.2,163.3 L1158.8,166.1 L1159.3,170.9 L1159.8,173.1 L1160.4,175.1 L1160.9,178.7 L1161.4,181.2 L1161.9,181.1 L1162.4,179.8 L1163.0,178.3 L1163.5,179.7 L1164.0,178.6 L1164.5,177.4 L1165.0,175.0 L1165.5,174.3 L1166.0,175.5 L1166.5,175.4 L1167.0,174.4 L1167.6,172.5 L1168.1,173.7 L1168.6,172.6 L1169.1,171.6 L1169.6,171.9 L1170.1,171.0 L1170.6,171.1 L1171.1,171.0 L1171.6,171.3 L1172.1,168.0 L1172.7,170.5 L1173.3,172.7 L1173.9,172.8 L1174.4,173.5 L1175.0,175.4 L1175.5,171.7 L1176.0,173.1 L1176.6,171.6 L1177.1,170.4 L1177.6,168.5 L1178.1,168.4 L1178.6,165.8 L1179.2,166.1 L1179.7,164.2 L1180.2,165.3 L1180.7,163.8 L1181.2,161.9 L1181.8,161.9 L1182.3,159.8 L1182.9,159.4 L1183.4,157.3 L1183.9,158.6 L1184.5,157.5 L1185.0,156.5 L1185.6,153.2 L1186.1,154.5 L1186.7,150.7 L1187.3,151.4 L1187.9,150.0 L1188.4,149.6 L1188.9,151.8 L1189.4,154.4 L1189.9,154.6 L1190.5,154.6 L1191.0,157.2 L1191.5,156.8 L1192.0,159.6 L1192.5,159.0 L1193.1,159.0 L1193.6,162.9 L1194.1,159.9 L1194.6,160.3 L1195.2,161.8 L1195.7,159.5 L1196.2,160.7 L1196.8,161.5 L1197.3,160.5 L1197.9,159.5 L1198.4,165.1 L1198.9,169.6 L1199.5,173.1 L1200.0,177.5 L1200.5,173.7 L1201.0,171.1 L1201.5,170.1 L1202.0,167.2 L1202.6,161.3 L1203.1,159.0 L1203.6,156.3 L1204.1,157.2 L1204.7,154.5 L1205.3,153.5 L1205.9,154.6 L1206.4,151.8 L1207.1,133.0 L1207.7,128.8 L1208.2,127.8 L1208.7,125.1 L1209.2,120.7 L1209.7,120.1 L1210.2,116.5 L1210.7,113.4 L1211.2,116.0 L1211.8,121.4 L1212.3,124.1 L1212.9,126.5 L1213.6,155.4 L1214.3,180.5 L1214.8,179.3 L1215.3,176.2 L1215.8,175.1 L1216.3,174.9 L1216.8,171.7 L1217.3,168.7 L1217.9,167.0 L1218.4,171.0 L1219.0,172.6 L1219.6,177.2 L1220.1,177.3 L1220.7,182.6 L1221.3,179.8 L1221.9,178.5 L1222.4,175.0 L1223.0,172.0 L1223.6,170.4 L1224.1,173.8 L1224.7,173.9 L1225.3,176.2 L1225.9,180.3 L1226.4,182.6 L1227.1,219.7 L1227.7,218.0 L1228.2,215.5 L1228.7,214.9 L1229.2,212.7 L1229.7,210.6 L1230.2,208.5 L1230.7,205.6 L1231.3,204.1 L1231.9,202.9 L1232.4,201.9 L1233.0,199.1 L1233.6,200.1 L1234.1,200.0 L1234.7,201.6 L1235.3,203.3 L1235.9,202.3 L1236.4,205.5 L1237.0,203.2 L1237.6,198.4 L1238.1,195.4 L1238.7,195.0 L1239.3,192.7 L1239.8,191.8 L1240.3,190.0 L1240.8,190.0 L1241.3,187.9 L1241.8,187.7 L1242.3,187.7 L1242.8,188.2 L1243.3,185.5 L1243.8,187.7 L1244.3,184.2 L1244.8,189.1 L1245.3,188.5 L1245.8,192.2 L1246.3,194.1 L1246.8,196.4 L1247.3,196.6 L1247.9,199.2 L1248.4,197.0 L1248.9,197.8 L1249.4,194.6 L1249.9,196.2 L1250.5,194.3 L1251.0,191.7 L1251.5,193.6 L1252.0,190.7 L1252.5,189.0 L1253.1,188.7 L1253.6,187.1 L1254.1,189.6 L1254.7,192.7 L1255.3,195.3 L1255.9,195.8 L1256.4,198.3 L1257.0,195.6 L1257.6,192.7 L1258.1,189.1 L1258.7,186.1 L1259.3,183.2 L1259.9,181.9 L1260.4,178.2 L1261.0,177.3 L1261.6,173.4 L1262.1,171.7 L1262.7,171.3 L1263.3,171.3 L1263.9,169.5 L1264.4,169.5 L1265.0,170.6 L1265.6,169.4 L1266.1,171.1 L1266.7,172.3 L1267.3,170.8 L1267.9,172.9 L1268.6,158.6" fill="none" stroke="#dae4fc" stroke-width="3.0" stroke-linejoin="round" stroke-linecap="round"/>
<line x1="119" x2="1323" y1="445.0" y2="445.0" stroke="#171e2b" stroke-width="2"/>
<line x1="119" x2="1323" y1="590.0" y2="590.0" stroke="#171e2b" stroke-width="2"/>
<rect x="119" y="419.0" width="1204" height="3" fill="#000308" fill-opacity="0.55"/>
<rect x="119" y="468.0" width="1204" height="3" fill="#000308" fill-opacity="0.55"/>
<rect x="119" y="516.0" width="1204" height="3" fill="#000308" fill-opacity="0.55"/>
<rect x="119" y="565.0" width="1204" height="3" fill="#000308" fill-opacity="0.55"/>
<rect x="119" y="613.0" width="1204" height="3" fill="#000308" fill-opacity="0.55"/>
<path d="M174.0,517.4 L174.0,418.8 L175.0,414.7 L176.1,410.5 L177.1,406.5 L178.3,405.4 L179.5,405.0 L180.7,402.7 L181.7,402.8 L182.6,402.9 L183.6,401.7 L184.6,402.0 L185.7,400.4 L186.8,400.8 L187.9,400.3 L188.8,400.7 L189.8,400.6 L190.7,399.5 L191.7,399.7 L192.6,399.7 L193.6,400.7 L194.6,400.3 L195.7,399.0 L196.8,400.0 L197.9,398.6 L198.9,401.1 L200.0,401.8 L201.1,403.2 L202.1,406.4 L203.1,404.0 L204.0,402.8 L205.0,403.0 L206.0,402.2 L206.9,400.6 L207.9,401.2 L208.8,399.8 L209.8,399.5 L210.7,398.0 L211.7,399.3 L212.6,398.8 L213.6,399.2 L214.5,399.0 L215.5,397.8 L216.4,397.8 L217.4,397.4 L218.3,397.3 L219.3,397.1 L220.2,397.6 L221.2,398.3 L222.1,397.3 L223.1,398.7 L224.0,398.2 L225.0,398.2 L226.0,399.4 L226.9,399.0 L227.9,399.0 L228.8,399.5 L229.8,400.1 L230.7,399.2 L231.7,401.1 L232.6,399.6 L233.6,401.2 L234.5,401.0 L235.5,399.2 L236.4,400.3 L237.4,399.2 L238.3,399.3 L239.3,398.0 L240.5,398.4 L241.7,399.0 L242.9,400.8 L243.9,401.2 L245.0,404.0 L246.1,406.1 L247.1,407.9 L248.1,407.1 L249.1,407.5 L250.1,408.0 L251.1,408.8 L252.1,407.9 L253.1,407.8 L254.0,406.7 L255.0,405.6 L256.0,404.2 L257.0,405.8 L258.1,404.3 L259.1,404.7 L260.1,405.2 L261.1,405.8 L262.1,404.7 L263.1,406.0 L264.1,405.7 L265.1,405.5 L266.1,405.8 L267.1,405.8 L268.3,408.1 L269.5,410.6 L270.7,413.9 L271.7,415.3 L272.7,414.7 L273.7,415.3 L274.7,417.9 L275.7,417.9 L276.8,419.1 L277.9,420.2 L279.3,428.7 L280.4,425.9 L281.4,422.1 L282.4,423.2 L283.3,423.7 L284.3,426.5 L285.2,422.0 L286.2,420.0 L287.1,417.8 L288.2,422.2 L289.3,429.0 L290.5,428.2 L291.7,426.4 L292.9,425.5 L294.0,423.6 L295.2,423.5 L296.4,422.2 L297.9,436.3 L298.9,433.2 L300.0,431.3 L301.4,426.6 L302.5,431.3 L303.6,436.6 L304.6,421.3 L305.7,407.1 L306.8,411.1 L307.9,414.2 L308.8,413.4 L309.8,413.2 L310.7,412.2 L311.7,411.9 L312.8,412.3 L313.8,411.5 L314.8,410.2 L315.8,409.3 L316.8,408.3 L317.9,407.1 L318.8,408.2 L319.8,409.8 L320.7,410.7 L321.7,409.3 L322.6,409.6 L323.6,409.1 L324.5,408.4 L325.5,407.9 L326.4,407.6 L327.6,406.2 L328.8,406.1 L330.0,404.6 L331.0,403.5 L331.9,402.6 L332.9,401.1 L333.8,400.6 L334.7,402.1 L335.6,401.9 L336.5,402.1 L337.4,401.4 L338.4,402.6 L339.3,402.4 L340.5,402.7 L341.7,401.8 L342.9,402.0 L343.9,403.1 L344.9,404.8 L345.9,405.4 L346.9,407.4 L347.9,409.0 L348.8,406.5 L349.8,403.1 L350.7,401.3 L351.8,401.9 L352.9,402.1 L353.9,403.2 L355.0,403.7 L356.1,402.2 L357.1,401.5 L358.2,400.1 L359.3,400.6 L360.3,401.0 L361.3,400.4 L362.3,401.0 L363.4,401.2 L364.4,401.4 L365.4,400.6 L366.4,401.9 L367.4,401.8 L368.5,402.1 L369.5,401.9 L370.5,402.5 L371.5,402.9 L372.6,402.9 L373.6,403.3 L374.6,401.3 L375.7,400.8 L376.8,400.6 L377.9,400.3 L378.8,399.6 L379.8,400.6 L380.7,400.6 L381.7,399.7 L382.6,400.5 L383.6,400.2 L384.5,400.4 L385.5,401.0 L386.4,401.8 L387.4,402.0 L388.3,402.5 L389.3,402.7 L390.3,403.7 L391.3,403.8 L392.3,404.4 L393.4,404.6 L394.4,404.1 L395.4,405.5 L396.4,404.1 L397.5,405.9 L398.6,406.7 L399.6,408.1 L400.7,408.6 L401.7,409.6 L402.6,408.6 L403.6,407.7 L404.5,408.5 L405.5,407.4 L406.4,407.9 L407.6,409.7 L408.8,412.3 L410.0,415.1 L411.1,413.1 L412.1,410.6 L413.1,412.9 L414.0,414.3 L415.0,415.5 L416.4,426.5 L417.5,428.7 L418.6,430.1 L419.6,432.3 L420.7,433.7 L421.8,433.4 L422.9,433.3 L423.9,434.6 L425.0,433.4 L426.1,434.3 L427.1,435.8 L428.2,436.6 L429.3,436.5 L430.0,447.4 L431.1,444.3 L432.1,439.8 L433.1,445.1 L434.0,450.0 L435.0,455.3 L436.0,449.9 L436.9,442.2 L437.9,436.5 L438.8,439.8 L439.8,442.6 L440.7,445.3 L441.8,444.1 L442.9,440.7 L443.9,438.1 L445.0,435.4 L446.0,442.8 L446.9,448.1 L447.9,453.9 L448.8,449.0 L449.8,443.1 L450.7,438.8 L451.8,439.9 L452.9,441.1 L453.9,443.4 L455.0,444.9 L456.0,442.5 L456.9,442.4 L457.9,441.0 L458.9,449.4 L460.0,456.2 L461.1,451.1 L462.1,447.1 L463.2,442.8 L464.3,440.2 L465.5,442.0 L466.7,445.7 L467.9,448.5 L469.3,456.0 L470.7,445.9 L472.1,458.3 L473.1,448.8 L474.0,441.7 L475.0,432.5 L476.1,431.7 L477.1,430.1 L478.2,428.7 L479.3,427.9 L480.2,435.7 L481.2,443.3 L482.1,451.9 L483.1,444.9 L484.0,437.3 L485.0,431.0 L486.2,430.4 L487.4,430.3 L488.6,429.3 L489.5,424.4 L490.5,419.1 L491.4,416.2 L492.9,408.4 L494.0,409.7 L495.2,410.9 L496.4,411.7 L497.5,410.7 L498.6,410.7 L499.6,409.1 L500.7,408.4 L501.8,409.9 L502.9,409.5 L503.9,410.3 L505.0,412.0 L506.1,416.4 L507.1,423.5 L508.3,417.5 L509.5,411.3 L510.7,405.3 L511.8,407.3 L512.9,408.6 L513.9,408.3 L515.0,410.0 L516.1,408.8 L517.1,407.5 L518.2,405.9 L519.3,404.4 L520.2,406.3 L521.2,407.9 L522.1,407.8 L523.1,407.8 L524.0,408.7 L525.0,408.4 L526.0,407.9 L526.9,406.5 L527.9,407.5 L528.8,406.6 L529.8,405.2 L530.7,403.2 L531.7,402.4 L532.8,404.1 L533.8,403.3 L534.8,404.3 L535.8,405.2 L536.8,405.1 L537.9,404.3 L538.8,405.2 L539.8,406.9 L540.7,406.2 L541.7,407.6 L542.6,407.8 L543.6,408.0 L545.0,410.2 L546.0,411.1 L546.9,413.1 L547.9,415.5 L548.9,413.5 L549.9,412.1 L550.9,411.6 L551.9,410.4 L552.9,409.3 L553.9,408.8 L554.9,410.2 L555.9,410.8 L556.9,412.2 L557.9,412.8 L558.9,417.9 L560.0,421.2 L561.1,424.9 L562.1,430.4 L563.1,427.0 L564.0,425.5 L565.0,422.9 L566.0,425.0 L567.0,425.8 L568.0,427.4 L569.0,428.1 L570.0,430.1 L571.0,438.1 L571.9,447.6 L572.9,455.7 L573.9,457.9 L575.0,461.0 L576.1,456.2 L577.1,451.9 L578.2,445.9 L579.3,441.8 L580.4,444.6 L581.4,446.4 L582.5,440.3 L583.6,432.1 L584.5,434.1 L585.5,436.8 L586.4,438.1 L587.9,453.5 L588.9,453.9 L590.0,454.7 L591.1,456.6 L592.1,456.3 L593.1,451.8 L594.0,444.9 L595.0,439.4 L596.2,444.6 L597.4,447.9 L598.6,450.9 L599.5,452.9 L600.5,456.6 L601.4,458.2 L602.9,442.0 L604.0,438.4 L605.2,436.9 L606.4,434.0 L607.6,430.2 L608.8,426.8 L610.0,423.8 L611.0,425.4 L611.9,427.7 L612.9,429.3 L614.0,429.2 L615.2,427.4 L616.4,426.3 L617.6,429.4 L618.8,434.0 L620.0,437.2 L621.1,430.2 L622.1,423.0 L623.3,428.5 L624.5,433.1 L625.7,437.8 L626.9,433.4 L628.1,429.5 L629.3,424.9 L630.2,423.1 L631.2,419.0 L632.1,416.2 L633.3,419.6 L634.5,425.2 L635.7,430.7 L636.9,429.3 L638.1,428.0 L639.3,427.1 L640.2,424.5 L641.2,422.7 L642.1,420.8 L643.2,425.1 L644.3,429.1 L645.4,433.9 L646.4,436.5 L647.5,433.8 L648.6,431.0 L649.5,436.1 L650.5,441.5 L651.4,446.7 L652.6,442.8 L653.8,437.7 L655.0,435.0 L656.1,431.0 L657.1,429.0 L658.2,425.5 L659.3,422.5 L660.5,425.7 L661.7,430.1 L662.9,432.2 L663.8,435.1 L664.8,436.3 L665.7,438.9 L666.8,431.1 L667.9,422.3 L668.9,428.7 L670.0,434.9 L671.2,441.9 L672.4,448.3 L673.6,455.5 L674.5,453.2 L675.5,448.8 L676.4,445.4 L677.6,446.1 L678.8,446.3 L680.0,447.6 L681.1,439.7 L682.1,430.8 L683.1,429.1 L684.0,427.9 L685.0,426.5 L686.0,424.1 L686.9,421.8 L687.9,420.9 L688.9,417.7 L690.0,416.4 L691.1,416.2 L692.1,414.1 L693.1,413.8 L694.0,415.1 L695.0,416.2 L696.0,415.7 L696.9,415.8 L697.9,415.7 L698.9,423.2 L700.0,432.1 L701.1,427.1 L702.1,423.6 L703.2,417.8 L704.3,413.8 L705.5,417.3 L706.7,421.7 L707.9,424.9 L708.8,423.4 L709.8,421.7 L710.7,419.7 L711.8,423.1 L712.9,427.0 L713.9,432.6 L715.0,435.1 L716.0,440.0 L716.9,444.1 L717.9,448.6 L718.9,444.1 L719.9,440.8 L720.9,436.7 L721.9,433.8 L722.9,430.8 L723.8,434.0 L724.8,438.3 L725.7,440.9 L726.8,437.3 L727.9,435.1 L728.9,431.8 L730.0,428.7 L731.2,433.1 L732.4,438.3 L733.6,443.3 L735.0,446.5 L736.1,460.4 L737.1,475.6 L738.1,469.2 L739.0,460.9 L740.0,453.6 L741.1,466.8 L742.1,479.3 L743.6,489.1 L744.6,485.2 L745.7,480.4 L746.8,476.1 L747.9,472.1 L748.8,479.1 L749.8,485.4 L750.7,492.7 L751.8,491.6 L752.9,489.5 L753.9,487.8 L755.0,487.5 L756.1,487.4 L757.1,488.7 L758.2,490.0 L759.3,491.2 L760.7,486.4 L761.7,488.7 L762.6,490.1 L763.6,492.6 L764.6,484.4 L765.7,477.1 L766.9,479.3 L768.1,482.1 L769.3,484.4 L770.2,484.7 L771.2,485.8 L772.1,486.0 L773.2,484.2 L774.3,481.5 L775.4,479.1 L776.4,476.0 L777.4,480.1 L778.3,482.4 L779.3,485.0 L780.4,483.5 L781.4,482.3 L782.5,481.0 L783.6,480.3 L784.6,480.3 L785.7,480.6 L786.8,482.6 L787.9,483.0 L788.9,478.8 L790.0,475.6 L791.1,472.5 L792.1,469.7 L793.1,471.6 L794.0,472.7 L795.0,473.1 L796.2,471.4 L797.4,470.8 L798.6,469.8 L799.8,472.6 L801.0,474.8 L802.1,478.7 L803.2,482.0 L804.3,484.7 L805.4,486.4 L806.4,490.1 L807.5,488.0 L808.6,487.5 L809.6,485.6 L810.7,485.1 L811.9,486.2 L813.1,486.5 L814.3,488.2 L815.5,493.1 L816.7,496.1 L817.9,499.9 L818.8,501.3 L819.8,503.3 L820.7,505.1 L821.7,502.0 L822.6,500.4 L823.6,497.3 L824.6,493.6 L825.7,492.0 L826.7,493.0 L827.7,494.1 L828.7,497.4 L829.7,497.4 L830.7,500.1 L831.8,502.1 L832.9,505.0 L833.9,506.2 L835.0,508.1 L836.1,507.5 L837.1,506.6 L838.2,506.5 L839.3,505.5 L840.4,503.8 L841.4,500.6 L842.5,498.5 L843.6,496.0 L844.6,501.6 L845.7,505.6 L846.7,501.1 L847.7,496.1 L848.7,491.1 L849.7,486.1 L850.7,482.7 L851.8,485.5 L852.9,488.1 L853.9,491.7 L855.0,495.0 L856.0,497.1 L856.9,498.3 L857.9,498.0 L858.9,502.3 L860.0,504.7 L861.1,508.5 L862.1,512.1 L863.2,512.4 L864.3,513.4 L865.4,513.3 L866.4,513.4 L867.4,513.8 L868.3,513.5 L869.3,512.3 L870.2,512.2 L871.2,511.6 L872.1,510.6 L873.1,510.6 L874.0,510.3 L875.0,510.0 L876.0,509.9 L876.9,508.9 L877.9,509.4 L878.9,507.9 L880.0,506.8 L881.1,505.2 L882.1,503.9 L883.1,506.7 L884.0,510.3 L885.0,512.6 L886.0,513.2 L887.0,513.6 L888.1,513.5 L889.1,513.3 L890.1,513.1 L891.1,513.3 L892.1,514.0 L893.2,506.2 L894.3,498.3 L895.4,490.0 L896.4,481.1 L897.5,472.9 L898.6,462.5 L899.6,462.1 L900.6,459.8 L901.6,459.9 L902.6,458.6 L903.6,458.0 L904.5,456.7 L905.5,455.1 L906.4,454.2 L907.4,458.5 L908.3,462.8 L909.3,466.6 L910.4,478.6 L911.4,490.7 L912.5,490.4 L913.6,492.6 L914.6,492.8 L915.7,493.4 L916.8,481.6 L917.9,471.2 L918.8,468.9 L919.8,467.9 L920.7,466.4 L921.7,473.6 L922.6,480.2 L923.6,486.9 L925.0,466.4 L926.1,468.9 L927.1,470.1 L928.2,471.8 L929.3,472.6 L930.2,476.9 L931.2,479.0 L932.1,482.5 L933.2,482.8 L934.3,483.8 L935.4,484.6 L936.4,483.7 L937.4,488.3 L938.3,492.4 L939.3,495.2 L940.4,499.2 L941.4,504.4 L942.6,500.1 L943.8,495.4 L945.0,490.4 L946.1,494.5 L947.1,499.2 L948.2,504.0 L949.3,509.3 L950.5,501.5 L951.7,494.8 L952.9,488.8 L954.0,488.9 L955.2,487.1 L956.4,486.3 L957.4,489.3 L958.3,493.0 L959.3,495.9 L960.2,495.1 L961.2,495.2 L962.1,495.9 L963.1,491.2 L964.0,486.5 L965.0,481.8 L966.0,478.7 L966.9,477.6 L967.9,476.3 L969.3,455.1 L970.5,453.2 L971.7,453.5 L972.9,452.4 L973.8,461.2 L974.8,468.3 L975.7,477.5 L976.7,463.9 L977.6,449.5 L978.6,435.0 L979.8,435.6 L981.0,436.0 L982.1,436.4 L983.1,438.4 L984.0,441.2 L985.0,442.1 L986.0,448.1 L986.9,452.8 L987.9,457.7 L988.9,455.0 L990.0,452.2 L991.1,449.9 L992.1,447.3 L993.6,475.9 L994.6,488.0 L995.7,497.9 L996.7,495.7 L997.6,493.5 L998.6,491.6 L999.6,494.6 L1000.7,497.4 L1001.8,500.5 L1002.9,503.3 L1003.9,493.5 L1005.0,485.5 L1006.1,484.5 L1007.1,483.0 L1008.2,481.3 L1009.3,480.9 L1010.2,482.2 L1011.2,484.4 L1012.1,485.7 L1013.3,483.2 L1014.5,479.8 L1015.7,474.9 L1016.8,481.9 L1017.9,487.5 L1019.0,490.6 L1020.2,494.1 L1021.4,498.5 L1022.6,490.2 L1023.8,482.8 L1025.0,475.0 L1026.0,478.4 L1026.9,482.5 L1027.9,487.1 L1029.0,482.7 L1030.2,478.1 L1031.4,473.0 L1032.6,467.5 L1033.8,462.6 L1035.0,458.5 L1036.0,457.9 L1036.9,457.0 L1037.9,457.7 L1038.9,463.5 L1040.0,470.3 L1041.4,459.2 L1042.6,463.9 L1043.8,467.8 L1045.0,472.8 L1046.0,468.5 L1046.9,462.5 L1047.9,456.9 L1048.9,455.1 L1050.0,450.7 L1051.1,439.0 L1052.1,427.7 L1053.2,432.0 L1054.3,439.1 L1055.4,434.4 L1056.4,429.8 L1057.5,426.3 L1058.6,422.8 L1059.6,425.8 L1060.6,429.2 L1061.6,431.5 L1062.6,434.9 L1063.6,439.4 L1064.8,441.8 L1066.0,445.2 L1067.1,447.8 L1068.1,448.6 L1069.0,450.2 L1069.9,450.1 L1070.8,450.2 L1071.7,449.8 L1072.7,450.8 L1073.6,451.9 L1074.8,454.2 L1076.0,457.3 L1077.1,460.7 L1078.2,454.2 L1079.3,448.1 L1080.4,449.5 L1081.4,452.0 L1082.4,446.7 L1083.3,439.4 L1084.3,433.5 L1085.5,437.3 L1086.7,441.2 L1087.9,444.1 L1088.8,447.1 L1089.8,448.6 L1090.7,450.7 L1091.9,445.1 L1093.1,441.9 L1094.3,437.0 L1095.4,443.0 L1096.4,448.0 L1097.4,443.8 L1098.3,441.3 L1099.3,438.2 L1100.4,441.7 L1101.4,444.6 L1102.5,448.5 L1103.6,450.8 L1104.6,447.3 L1105.7,444.2 L1106.7,445.4 L1107.6,447.9 L1108.6,450.7 L1109.5,447.4 L1110.5,442.8 L1111.4,439.1 L1112.5,444.9 L1113.6,449.4 L1115.0,451.6 L1116.1,453.6 L1117.1,456.7 L1118.1,448.6 L1119.0,439.4 L1120.0,428.4 L1121.2,429.9 L1122.4,431.5 L1123.6,432.4 L1124.5,432.8 L1125.5,431.7 L1126.4,431.9 L1127.4,430.8 L1128.3,431.5 L1129.3,432.3 L1130.2,431.8 L1131.2,430.7 L1132.1,430.7 L1133.2,429.5 L1134.3,426.9 L1135.4,424.8 L1136.4,422.8 L1137.4,424.0 L1138.3,425.6 L1139.3,425.2 L1140.5,424.4 L1141.7,422.4 L1142.9,421.5 L1143.9,416.1 L1145.0,409.3 L1146.2,409.3 L1147.4,408.9 L1148.6,407.0 L1149.5,411.9 L1150.5,414.9 L1151.4,418.6 L1152.5,425.9 L1153.6,433.4 L1154.8,434.0 L1156.0,436.7 L1157.1,437.7 L1158.2,431.2 L1159.3,424.0 L1160.2,421.0 L1161.2,419.2 L1162.1,417.1 L1163.2,416.4 L1164.3,415.8 L1165.4,413.7 L1166.4,412.9 L1167.6,412.5 L1168.8,412.2 L1170.0,411.5 L1171.1,414.1 L1172.1,415.4 L1173.3,414.2 L1174.5,414.6 L1175.7,412.1 L1176.8,416.3 L1177.9,420.4 L1178.9,423.6 L1180.0,426.9 L1181.1,433.6 L1182.1,438.2 L1183.1,444.4 L1184.0,450.6 L1185.0,455.1 L1186.1,450.1 L1187.1,445.0 L1188.1,448.7 L1189.0,451.6 L1190.0,455.6 L1191.0,450.6 L1191.9,446.4 L1192.9,442.6 L1194.0,440.8 L1195.2,440.8 L1196.4,438.1 L1197.6,433.9 L1198.8,430.5 L1200.0,426.1 L1201.2,427.2 L1202.4,430.1 L1203.6,431.7 L1204.5,435.5 L1205.5,440.2 L1206.4,443.8 L1207.4,449.6 L1208.3,456.4 L1209.3,461.3 L1210.4,477.1 L1211.4,490.8 L1212.6,483.6 L1213.8,476.3 L1215.0,470.4 L1216.0,468.9 L1216.9,466.7 L1217.9,465.6 L1218.8,465.8 L1219.8,464.0 L1220.7,463.5 L1221.8,461.0 L1222.9,460.9 L1223.9,459.0 L1225.0,459.0 L1226.0,453.5 L1226.9,448.3 L1227.9,442.4 L1228.9,449.4 L1230.0,453.6 L1231.0,454.0 L1231.9,455.6 L1232.9,455.0 L1233.8,463.5 L1234.8,472.8 L1235.7,481.7 L1236.7,475.5 L1237.6,468.5 L1238.6,460.7 L1239.8,463.6 L1241.0,465.9 L1242.1,466.5 L1243.3,471.4 L1244.5,474.3 L1245.7,478.2 L1246.7,472.9 L1247.6,469.5 L1248.6,464.3 L1249.6,466.4 L1250.7,467.1 L1251.9,460.6 L1253.1,454.7 L1254.3,448.9 L1255.4,450.4 L1256.4,449.5 L1257.5,449.6 L1258.6,450.4 L1259.8,462.1 L1261.0,474.9 L1262.1,487.4 L1263.1,485.3 L1264.1,482.3 L1265.1,480.1 L1266.1,478.6 L1267.1,476.8 L1268.2,481.7 L1269.3,487.1 L1269.3,487.1 L1269.3,517.4Z" fill="#1db150"/>
<path d="M174.0,517.4 L174.0,418.8 L175.0,414.7 L176.1,410.5 L177.1,406.5 L178.3,405.4 L179.5,405.0 L180.7,402.7 L181.7,402.8 L182.6,402.9 L183.6,401.7 L184.6,402.0 L185.7,400.4 L186.8,400.8 L187.9,400.3 L188.8,400.7 L189.8,400.6 L190.7,399.5 L191.7,399.7 L192.6,399.7 L193.6,400.7 L194.6,400.3 L195.7,399.0 L196.8,400.0 L197.9,398.6 L198.9,401.1 L200.0,401.8 L201.1,403.2 L202.1,406.4 L203.1,404.0 L204.0,402.8 L205.0,403.0 L206.0,402.2 L206.9,400.6 L207.9,401.2 L208.8,399.8 L209.8,399.5 L210.7,398.0 L211.7,399.3 L212.6,398.8 L213.6,399.2 L214.5,399.0 L215.5,397.8 L216.4,397.8 L217.4,397.4 L218.3,397.3 L219.3,397.1 L220.2,397.6 L221.2,398.3 L222.1,397.3 L223.1,398.7 L224.0,398.2 L225.0,398.2 L226.0,399.4 L226.9,399.0 L227.9,399.0 L228.8,399.5 L229.8,400.1 L230.7,399.2 L231.7,401.1 L232.6,399.6 L233.6,401.2 L234.5,401.0 L235.5,399.2 L236.4,400.3 L237.4,399.2 L238.3,399.3 L239.3,398.0 L240.5,398.4 L241.7,399.0 L242.9,400.8 L243.9,401.2 L245.0,404.0 L246.1,406.1 L247.1,407.9 L248.1,407.1 L249.1,407.5 L250.1,408.0 L251.1,408.8 L252.1,407.9 L253.1,407.8 L254.0,406.7 L255.0,405.6 L256.0,404.2 L257.0,405.8 L258.1,404.3 L259.1,404.7 L260.1,405.2 L261.1,405.8 L262.1,404.7 L263.1,406.0 L264.1,405.7 L265.1,405.5 L266.1,405.8 L267.1,405.8 L268.3,408.1 L269.5,410.6 L270.7,413.9 L271.7,415.3 L272.7,414.7 L273.7,415.3 L274.7,417.9 L275.7,417.9 L276.8,419.1 L277.9,420.2 L279.3,428.7 L280.4,425.9 L281.4,422.1 L282.4,423.2 L283.3,423.7 L284.3,426.5 L285.2,422.0 L286.2,420.0 L287.1,417.8 L288.2,422.2 L289.3,429.0 L290.5,428.2 L291.7,426.4 L292.9,425.5 L294.0,423.6 L295.2,423.5 L296.4,422.2 L297.9,436.3 L298.9,433.2 L300.0,431.3 L301.4,426.6 L302.5,431.3 L303.6,436.6 L304.6,421.3 L305.7,407.1 L306.8,411.1 L307.9,414.2 L308.8,413.4 L309.8,413.2 L310.7,412.2 L311.7,411.9 L312.8,412.3 L313.8,411.5 L314.8,410.2 L315.8,409.3 L316.8,408.3 L317.9,407.1 L318.8,408.2 L319.8,409.8 L320.7,410.7 L321.7,409.3 L322.6,409.6 L323.6,409.1 L324.5,408.4 L325.5,407.9 L326.4,407.6 L327.6,406.2 L328.8,406.1 L330.0,404.6 L331.0,403.5 L331.9,402.6 L332.9,401.1 L333.8,400.6 L334.7,402.1 L335.6,401.9 L336.5,402.1 L337.4,401.4 L338.4,402.6 L339.3,402.4 L340.5,402.7 L341.7,401.8 L342.9,402.0 L343.9,403.1 L344.9,404.8 L345.9,405.4 L346.9,407.4 L347.9,409.0 L348.8,406.5 L349.8,403.1 L350.7,401.3 L351.8,401.9 L352.9,402.1 L353.9,403.2 L355.0,403.7 L356.1,402.2 L357.1,401.5 L358.2,400.1 L359.3,400.6 L360.3,401.0 L361.3,400.4 L362.3,401.0 L363.4,401.2 L364.4,401.4 L365.4,400.6 L366.4,401.9 L367.4,401.8 L368.5,402.1 L369.5,401.9 L370.5,402.5 L371.5,402.9 L372.6,402.9 L373.6,403.3 L374.6,401.3 L375.7,400.8 L376.8,400.6 L377.9,400.3 L378.8,399.6 L379.8,400.6 L380.7,400.6 L381.7,399.7 L382.6,400.5 L383.6,400.2 L384.5,400.4 L385.5,401.0 L386.4,401.8 L387.4,402.0 L388.3,402.5 L389.3,402.7 L390.3,403.7 L391.3,403.8 L392.3,404.4 L393.4,404.6 L394.4,404.1 L395.4,405.5 L396.4,404.1 L397.5,405.9 L398.6,406.7 L399.6,408.1 L400.7,408.6 L401.7,409.6 L402.6,408.6 L403.6,407.7 L404.5,408.5 L405.5,407.4 L406.4,407.9 L407.6,409.7 L408.8,412.3 L410.0,415.1 L411.1,413.1 L412.1,410.6 L413.1,412.9 L414.0,414.3 L415.0,415.5 L416.4,426.5 L417.5,428.7 L418.6,430.1 L419.6,432.3 L420.7,433.7 L421.8,433.4 L422.9,433.3 L423.9,434.6 L425.0,433.4 L426.1,434.3 L427.1,435.8 L428.2,436.6 L429.3,436.5 L430.0,447.4 L431.1,444.3 L432.1,439.8 L433.1,445.1 L434.0,450.0 L435.0,455.3 L436.0,449.9 L436.9,442.2 L437.9,436.5 L438.8,439.8 L439.8,442.6 L440.7,445.3 L441.8,444.1 L442.9,440.7 L443.9,438.1 L445.0,435.4 L446.0,442.8 L446.9,448.1 L447.9,453.9 L448.8,449.0 L449.8,443.1 L450.7,438.8 L451.8,439.9 L452.9,441.1 L453.9,443.4 L455.0,444.9 L456.0,442.5 L456.9,442.4 L457.9,441.0 L458.9,449.4 L460.0,456.2 L461.1,451.1 L462.1,447.1 L463.2,442.8 L464.3,440.2 L465.5,442.0 L466.7,445.7 L467.9,448.5 L469.3,456.0 L470.7,445.9 L472.1,458.3 L473.1,448.8 L474.0,441.7 L475.0,432.5 L476.1,431.7 L477.1,430.1 L478.2,428.7 L479.3,427.9 L480.2,435.7 L481.2,443.3 L482.1,451.9 L483.1,444.9 L484.0,437.3 L485.0,431.0 L486.2,430.4 L487.4,430.3 L488.6,429.3 L489.5,424.4 L490.5,419.1 L491.4,416.2 L492.9,408.4 L494.0,409.7 L495.2,410.9 L496.4,411.7 L497.5,410.7 L498.6,410.7 L499.6,409.1 L500.7,408.4 L501.8,409.9 L502.9,409.5 L503.9,410.3 L505.0,412.0 L506.1,416.4 L507.1,423.5 L508.3,417.5 L509.5,411.3 L510.7,405.3 L511.8,407.3 L512.9,408.6 L513.9,408.3 L515.0,410.0 L516.1,408.8 L517.1,407.5 L518.2,405.9 L519.3,404.4 L520.2,406.3 L521.2,407.9 L522.1,407.8 L523.1,407.8 L524.0,408.7 L525.0,408.4 L526.0,407.9 L526.9,406.5 L527.9,407.5 L528.8,406.6 L529.8,405.2 L530.7,403.2 L531.7,402.4 L532.8,404.1 L533.8,403.3 L534.8,404.3 L535.8,405.2 L536.8,405.1 L537.9,404.3 L538.8,405.2 L539.8,406.9 L540.7,406.2 L541.7,407.6 L542.6,407.8 L543.6,408.0 L545.0,410.2 L546.0,411.1 L546.9,413.1 L547.9,415.5 L548.9,413.5 L549.9,412.1 L550.9,411.6 L551.9,410.4 L552.9,409.3 L553.9,408.8 L554.9,410.2 L555.9,410.8 L556.9,412.2 L557.9,412.8 L558.9,417.9 L560.0,421.2 L561.1,424.9 L562.1,430.4 L563.1,427.0 L564.0,425.5 L565.0,422.9 L566.0,425.0 L567.0,425.8 L568.0,427.4 L569.0,428.1 L570.0,430.1 L571.0,438.1 L571.9,447.6 L572.9,455.7 L573.9,457.9 L575.0,461.0 L576.1,456.2 L577.1,451.9 L578.2,445.9 L579.3,441.8 L580.4,444.6 L581.4,446.4 L582.5,440.3 L583.6,432.1 L584.5,434.1 L585.5,436.8 L586.4,438.1 L587.9,453.5 L588.9,453.9 L590.0,454.7 L591.1,456.6 L592.1,456.3 L593.1,451.8 L594.0,444.9 L595.0,439.4 L596.2,444.6 L597.4,447.9 L598.6,450.9 L599.5,452.9 L600.5,456.6 L601.4,458.2 L602.9,442.0 L604.0,438.4 L605.2,436.9 L606.4,434.0 L607.6,430.2 L608.8,426.8 L610.0,423.8 L611.0,425.4 L611.9,427.7 L612.9,429.3 L614.0,429.2 L615.2,427.4 L616.4,426.3 L617.6,429.4 L618.8,434.0 L620.0,437.2 L621.1,430.2 L622.1,423.0 L623.3,428.5 L624.5,433.1 L625.7,437.8 L626.9,433.4 L628.1,429.5 L629.3,424.9 L630.2,423.1 L631.2,419.0 L632.1,416.2 L633.3,419.6 L634.5,425.2 L635.7,430.7 L636.9,429.3 L638.1,428.0 L639.3,427.1 L640.2,424.5 L641.2,422.7 L642.1,420.8 L643.2,425.1 L644.3,429.1 L645.4,433.9 L646.4,436.5 L647.5,433.8 L648.6,431.0 L649.5,436.1 L650.5,441.5 L651.4,446.7 L652.6,442.8 L653.8,437.7 L655.0,435.0 L656.1,431.0 L657.1,429.0 L658.2,425.5 L659.3,422.5 L660.5,425.7 L661.7,430.1 L662.9,432.2 L663.8,435.1 L664.8,436.3 L665.7,438.9 L666.8,431.1 L667.9,422.3 L668.9,428.7 L670.0,434.9 L671.2,441.9 L672.4,448.3 L673.6,455.5 L674.5,453.2 L675.5,448.8 L676.4,445.4 L677.6,446.1 L678.8,446.3 L680.0,447.6 L681.1,439.7 L682.1,430.8 L683.1,429.1 L684.0,427.9 L685.0,426.5 L686.0,424.1 L686.9,421.8 L687.9,420.9 L688.9,417.7 L690.0,416.4 L691.1,416.2 L692.1,414.1 L693.1,413.8 L694.0,415.1 L695.0,416.2 L696.0,415.7 L696.9,415.8 L697.9,415.7 L698.9,423.2 L700.0,432.1 L701.1,427.1 L702.1,423.6 L703.2,417.8 L704.3,413.8 L705.5,417.3 L706.7,421.7 L707.9,424.9 L708.8,423.4 L709.8,421.7 L710.7,419.7 L711.8,423.1 L712.9,427.0 L713.9,432.6 L715.0,435.1 L716.0,440.0 L716.9,444.1 L717.9,448.6 L718.9,444.1 L719.9,440.8 L720.9,436.7 L721.9,433.8 L722.9,430.8 L723.8,434.0 L724.8,438.3 L725.7,440.9 L726.8,437.3 L727.9,435.1 L728.9,431.8 L730.0,428.7 L731.2,433.1 L732.4,438.3 L733.6,443.3 L735.0,446.5 L736.1,460.4 L737.1,475.6 L738.1,469.2 L739.0,460.9 L740.0,453.6 L741.1,466.8 L742.1,479.3 L743.6,489.1 L744.6,485.2 L745.7,480.4 L746.8,476.1 L747.9,472.1 L748.8,479.1 L749.8,485.4 L750.7,492.7 L751.8,491.6 L752.9,489.5 L753.9,487.8 L755.0,487.5 L756.1,487.4 L757.1,488.7 L758.2,490.0 L759.3,491.2 L760.7,486.4 L761.7,488.7 L762.6,490.1 L763.6,492.6 L764.6,484.4 L765.7,477.1 L766.9,479.3 L768.1,482.1 L769.3,484.4 L770.2,484.7 L771.2,485.8 L772.1,486.0 L773.2,484.2 L774.3,481.5 L775.4,479.1 L776.4,476.0 L777.4,480.1 L778.3,482.4 L779.3,485.0 L780.4,483.5 L781.4,482.3 L782.5,481.0 L783.6,480.3 L784.6,480.3 L785.7,480.6 L786.8,482.6 L787.9,483.0 L788.9,478.8 L790.0,475.6 L791.1,472.5 L792.1,469.7 L793.1,471.6 L794.0,472.7 L795.0,473.1 L796.2,471.4 L797.4,470.8 L798.6,469.8 L799.8,472.6 L801.0,474.8 L802.1,478.7 L803.2,482.0 L804.3,484.7 L805.4,486.4 L806.4,490.1 L807.5,488.0 L808.6,487.5 L809.6,485.6 L810.7,485.1 L811.9,486.2 L813.1,486.5 L814.3,488.2 L815.5,493.1 L816.7,496.1 L817.9,499.9 L818.8,501.3 L819.8,503.3 L820.7,505.1 L821.7,502.0 L822.6,500.4 L823.6,497.3 L824.6,493.6 L825.7,492.0 L826.7,493.0 L827.7,494.1 L828.7,497.4 L829.7,497.4 L830.7,500.1 L831.8,502.1 L832.9,505.0 L833.9,506.2 L835.0,508.1 L836.1,507.5 L837.1,506.6 L838.2,506.5 L839.3,505.5 L840.4,503.8 L841.4,500.6 L842.5,498.5 L843.6,496.0 L844.6,501.6 L845.7,505.6 L846.7,501.1 L847.7,496.1 L848.7,491.1 L849.7,486.1 L850.7,482.7 L851.8,485.5 L852.9,488.1 L853.9,491.7 L855.0,495.0 L856.0,497.1 L856.9,498.3 L857.9,498.0 L858.9,502.3 L860.0,504.7 L861.1,508.5 L862.1,512.1 L863.2,512.4 L864.3,513.4 L865.4,513.3 L866.4,513.4 L867.4,513.8 L868.3,513.5 L869.3,512.3 L870.2,512.2 L871.2,511.6 L872.1,510.6 L873.1,510.6 L874.0,510.3 L875.0,510.0 L876.0,509.9 L876.9,508.9 L877.9,509.4 L878.9,507.9 L880.0,506.8 L881.1,505.2 L882.1,503.9 L883.1,506.7 L884.0,510.3 L885.0,512.6 L886.0,513.2 L887.0,513.6 L888.1,513.5 L889.1,513.3 L890.1,513.1 L891.1,513.3 L892.1,514.0 L893.2,506.2 L894.3,498.3 L895.4,490.0 L896.4,481.1 L897.5,472.9 L898.6,462.5 L899.6,462.1 L900.6,459.8 L901.6,459.9 L902.6,458.6 L903.6,458.0 L904.5,456.7 L905.5,455.1 L906.4,454.2 L907.4,458.5 L908.3,462.8 L909.3,466.6 L910.4,478.6 L911.4,490.7 L912.5,490.4 L913.6,492.6 L914.6,492.8 L915.7,493.4 L916.8,481.6 L917.9,471.2 L918.8,468.9 L919.8,467.9 L920.7,466.4 L921.7,473.6 L922.6,480.2 L923.6,486.9 L925.0,466.4 L926.1,468.9 L927.1,470.1 L928.2,471.8 L929.3,472.6 L930.2,476.9 L931.2,479.0 L932.1,482.5 L933.2,482.8 L934.3,483.8 L935.4,484.6 L936.4,483.7 L937.4,488.3 L938.3,492.4 L939.3,495.2 L940.4,499.2 L941.4,504.4 L942.6,500.1 L943.8,495.4 L945.0,490.4 L946.1,494.5 L947.1,499.2 L948.2,504.0 L949.3,509.3 L950.5,501.5 L951.7,494.8 L952.9,488.8 L954.0,488.9 L955.2,487.1 L956.4,486.3 L957.4,489.3 L958.3,493.0 L959.3,495.9 L960.2,495.1 L961.2,495.2 L962.1,495.9 L963.1,491.2 L964.0,486.5 L965.0,481.8 L966.0,478.7 L966.9,477.6 L967.9,476.3 L969.3,455.1 L970.5,453.2 L971.7,453.5 L972.9,452.4 L973.8,461.2 L974.8,468.3 L975.7,477.5 L976.7,463.9 L977.6,449.5 L978.6,435.0 L979.8,435.6 L981.0,436.0 L982.1,436.4 L983.1,438.4 L984.0,441.2 L985.0,442.1 L986.0,448.1 L986.9,452.8 L987.9,457.7 L988.9,455.0 L990.0,452.2 L991.1,449.9 L992.1,447.3 L993.6,475.9 L994.6,488.0 L995.7,497.9 L996.7,495.7 L997.6,493.5 L998.6,491.6 L999.6,494.6 L1000.7,497.4 L1001.8,500.5 L1002.9,503.3 L1003.9,493.5 L1005.0,485.5 L1006.1,484.5 L1007.1,483.0 L1008.2,481.3 L1009.3,480.9 L1010.2,482.2 L1011.2,484.4 L1012.1,485.7 L1013.3,483.2 L1014.5,479.8 L1015.7,474.9 L1016.8,481.9 L1017.9,487.5 L1019.0,490.6 L1020.2,494.1 L1021.4,498.5 L1022.6,490.2 L1023.8,482.8 L1025.0,475.0 L1026.0,478.4 L1026.9,482.5 L1027.9,487.1 L1029.0,482.7 L1030.2,478.1 L1031.4,473.0 L1032.6,467.5 L1033.8,462.6 L1035.0,458.5 L1036.0,457.9 L1036.9,457.0 L1037.9,457.7 L1038.9,463.5 L1040.0,470.3 L1041.4,459.2 L1042.6,463.9 L1043.8,467.8 L1045.0,472.8 L1046.0,468.5 L1046.9,462.5 L1047.9,456.9 L1048.9,455.1 L1050.0,450.7 L1051.1,439.0 L1052.1,427.7 L1053.2,432.0 L1054.3,439.1 L1055.4,434.4 L1056.4,429.8 L1057.5,426.3 L1058.6,422.8 L1059.6,425.8 L1060.6,429.2 L1061.6,431.5 L1062.6,434.9 L1063.6,439.4 L1064.8,441.8 L1066.0,445.2 L1067.1,447.8 L1068.1,448.6 L1069.0,450.2 L1069.9,450.1 L1070.8,450.2 L1071.7,449.8 L1072.7,450.8 L1073.6,451.9 L1074.8,454.2 L1076.0,457.3 L1077.1,460.7 L1078.2,454.2 L1079.3,448.1 L1080.4,449.5 L1081.4,452.0 L1082.4,446.7 L1083.3,439.4 L1084.3,433.5 L1085.5,437.3 L1086.7,441.2 L1087.9,444.1 L1088.8,447.1 L1089.8,448.6 L1090.7,450.7 L1091.9,445.1 L1093.1,441.9 L1094.3,437.0 L1095.4,443.0 L1096.4,448.0 L1097.4,443.8 L1098.3,441.3 L1099.3,438.2 L1100.4,441.7 L1101.4,444.6 L1102.5,448.5 L1103.6,450.8 L1104.6,447.3 L1105.7,444.2 L1106.7,445.4 L1107.6,447.9 L1108.6,450.7 L1109.5,447.4 L1110.5,442.8 L1111.4,439.1 L1112.5,444.9 L1113.6,449.4 L1115.0,451.6 L1116.1,453.6 L1117.1,456.7 L1118.1,448.6 L1119.0,439.4 L1120.0,428.4 L1121.2,429.9 L1122.4,431.5 L1123.6,432.4 L1124.5,432.8 L1125.5,431.7 L1126.4,431.9 L1127.4,430.8 L1128.3,431.5 L1129.3,432.3 L1130.2,431.8 L1131.2,430.7 L1132.1,430.7 L1133.2,429.5 L1134.3,426.9 L1135.4,424.8 L1136.4,422.8 L1137.4,424.0 L1138.3,425.6 L1139.3,425.2 L1140.5,424.4 L1141.7,422.4 L1142.9,421.5 L1143.9,416.1 L1145.0,409.3 L1146.2,409.3 L1147.4,408.9 L1148.6,407.0 L1149.5,411.9 L1150.5,414.9 L1151.4,418.6 L1152.5,425.9 L1153.6,433.4 L1154.8,434.0 L1156.0,436.7 L1157.1,437.7 L1158.2,431.2 L1159.3,424.0 L1160.2,421.0 L1161.2,419.2 L1162.1,417.1 L1163.2,416.4 L1164.3,415.8 L1165.4,413.7 L1166.4,412.9 L1167.6,412.5 L1168.8,412.2 L1170.0,411.5 L1171.1,414.1 L1172.1,415.4 L1173.3,414.2 L1174.5,414.6 L1175.7,412.1 L1176.8,416.3 L1177.9,420.4 L1178.9,423.6 L1180.0,426.9 L1181.1,433.6 L1182.1,438.2 L1183.1,444.4 L1184.0,450.6 L1185.0,455.1 L1186.1,450.1 L1187.1,445.0 L1188.1,448.7 L1189.0,451.6 L1190.0,455.6 L1191.0,450.6 L1191.9,446.4 L1192.9,442.6 L1194.0,440.8 L1195.2,440.8 L1196.4,438.1 L1197.6,433.9 L1198.8,430.5 L1200.0,426.1 L1201.2,427.2 L1202.4,430.1 L1203.6,431.7 L1204.5,435.5 L1205.5,440.2 L1206.4,443.8 L1207.4,449.6 L1208.3,456.4 L1209.3,461.3 L1210.4,477.1 L1211.4,490.8 L1212.6,483.6 L1213.8,476.3 L1215.0,470.4 L1216.0,468.9 L1216.9,466.7 L1217.9,465.6 L1218.8,465.8 L1219.8,464.0 L1220.7,463.5 L1221.8,461.0 L1222.9,460.9 L1223.9,459.0 L1225.0,459.0 L1226.0,453.5 L1226.9,448.3 L1227.9,442.4 L1228.9,449.4 L1230.0,453.6 L1231.0,454.0 L1231.9,455.6 L1232.9,455.0 L1233.8,463.5 L1234.8,472.8 L1235.7,481.7 L1236.7,475.5 L1237.6,468.5 L1238.6,460.7 L1239.8,463.6 L1241.0,465.9 L1242.1,466.5 L1243.3,471.4 L1244.5,474.3 L1245.7,478.2 L1246.7,472.9 L1247.6,469.5 L1248.6,464.3 L1249.6,466.4 L1250.7,467.1 L1251.9,460.6 L1253.1,454.7 L1254.3,448.9 L1255.4,450.4 L1256.4,449.5 L1257.5,449.6 L1258.6,450.4 L1259.8,462.1 L1261.0,474.9 L1262.1,487.4 L1263.1,485.3 L1264.1,482.3 L1265.1,480.1 L1266.1,478.6 L1267.1,476.8 L1268.2,481.7 L1269.3,487.1 L1269.3,487.1 L1269.3,517.4" fill="none" stroke="#22c55e" stroke-width="2.1" stroke-linejoin="round"/>
<path d="M174.0,517.4 L174.0,539.7 L174.5,537.9 L175.7,537.4 L176.8,532.1 L177.9,528.6 L178.8,527.4 L179.8,525.9 L180.7,525.7 L181.8,524.5 L182.9,524.9 L183.9,523.9 L185.0,523.5 L186.1,523.8 L187.1,524.2 L188.2,522.5 L189.3,522.4 L190.3,522.9 L191.3,523.3 L192.3,522.4 L193.4,521.9 L194.4,522.7 L195.4,520.8 L196.4,522.1 L197.4,521.9 L198.4,522.5 L199.4,523.3 L200.4,524.5 L201.4,526.3 L202.6,524.2 L203.8,524.0 L205.0,523.1 L206.0,522.2 L206.9,522.1 L207.9,520.8 L208.8,520.4 L209.8,520.2 L210.7,520.6 L211.7,520.1 L212.6,519.9 L213.6,520.3 L214.5,520.1 L215.5,519.8 L216.4,520.6 L217.4,520.4 L218.3,519.6 L219.3,520.1 L220.3,520.1 L221.3,520.8 L222.3,520.5 L223.4,519.8 L224.4,521.1 L225.4,519.6 L226.4,520.1 L227.4,521.1 L228.5,520.4 L229.5,521.4 L230.5,520.9 L231.5,522.4 L232.6,523.0 L233.6,523.0 L234.5,523.2 L235.5,521.8 L236.4,522.1 L237.4,521.6 L238.3,521.2 L239.3,520.6 L240.5,521.8 L241.7,522.5 L242.9,522.1 L244.0,524.3 L245.2,525.2 L246.4,528.2 L247.4,528.4 L248.3,529.2 L249.3,529.2 L250.2,528.4 L251.2,528.8 L252.1,529.6 L253.2,527.0 L254.3,526.4 L255.3,525.9 L256.2,525.9 L257.2,525.9 L258.2,527.3 L259.2,526.2 L260.2,526.5 L261.2,526.9 L262.1,527.8 L263.1,526.7 L264.1,527.6 L265.1,528.1 L266.1,529.0 L267.1,529.1 L268.1,531.8 L269.0,533.4 L270.0,536.3 L271.0,536.8 L271.9,538.3 L272.9,539.0 L273.8,538.2 L274.8,538.8 L275.7,539.5 L276.7,542.6 L277.6,546.2 L278.6,549.4 L279.5,547.2 L280.5,545.1 L281.4,544.1 L282.4,546.0 L283.3,548.2 L284.3,550.8 L285.2,546.3 L286.2,541.9 L287.1,538.1 L288.1,542.5 L289.0,545.6 L290.0,551.4 L291.2,550.3 L292.4,549.5 L293.6,548.4 L294.5,546.2 L295.5,544.8 L296.4,542.9 L297.9,557.4 L298.8,554.9 L299.8,553.5 L300.7,552.3 L302.1,545.8 L303.2,551.1 L304.3,555.6 L305.4,541.6 L306.4,527.9 L307.5,531.8 L308.6,536.2 L309.6,534.9 L310.6,535.7 L311.6,534.5 L312.6,532.9 L313.6,532.4 L314.6,531.7 L315.7,530.8 L316.8,529.5 L317.9,529.9 L318.9,532.3 L320.0,533.5 L321.1,531.8 L322.1,529.3 L323.1,529.0 L324.0,529.2 L325.0,528.9 L326.0,529.6 L326.9,528.2 L327.9,527.7 L328.8,528.4 L329.8,526.7 L330.7,525.1 L331.7,524.6 L332.6,522.5 L333.6,522.2 L334.5,523.4 L335.5,523.5 L336.4,523.6 L337.4,523.1 L338.3,523.7 L339.3,523.7 L340.4,524.4 L341.4,523.6 L342.5,523.7 L343.6,522.6 L344.6,523.8 L345.7,526.3 L346.8,528.0 L347.9,529.2 L349.0,526.7 L350.2,524.4 L351.4,521.9 L352.6,521.7 L353.8,522.9 L355.0,523.3 L356.1,522.0 L357.1,521.3 L358.2,521.0 L359.3,520.3 L360.3,521.3 L361.3,521.9 L362.3,521.2 L363.4,522.3 L364.4,522.6 L365.4,522.8 L366.4,521.9 L367.4,521.8 L368.5,522.1 L369.5,522.2 L370.5,522.4 L371.5,523.4 L372.6,524.1 L373.6,524.2 L374.6,522.8 L375.7,522.4 L376.8,522.0 L377.9,520.0 L378.8,521.2 L379.8,521.9 L380.7,521.9 L381.7,522.1 L382.6,521.9 L383.6,521.6 L384.5,523.3 L385.5,523.0 L386.4,524.5 L387.4,525.4 L388.3,524.9 L389.3,525.5 L390.3,526.7 L391.3,526.5 L392.3,525.7 L393.4,525.9 L394.4,526.1 L395.4,527.7 L396.4,527.7 L397.5,527.4 L398.6,529.5 L399.6,530.7 L400.7,531.0 L401.7,530.2 L402.6,530.3 L403.6,529.3 L404.5,528.9 L405.5,530.4 L406.4,529.6 L407.6,531.5 L408.8,534.4 L410.0,535.6 L411.1,534.6 L412.1,532.7 L413.1,533.3 L414.0,535.0 L415.0,536.8 L416.4,548.8 L417.5,550.7 L418.6,551.4 L419.6,552.9 L420.7,553.6 L422.1,560.0 L423.1,558.1 L424.0,557.3 L425.0,556.6 L426.1,558.4 L427.1,558.8 L428.2,560.9 L429.3,561.4 L430.0,567.9 L431.1,564.0 L432.1,559.1 L433.2,568.1 L434.3,575.9 L435.5,569.1 L436.7,564.1 L437.9,556.6 L438.8,560.7 L439.8,564.7 L440.7,568.0 L441.8,564.7 L442.9,562.2 L443.9,559.4 L445.0,556.9 L446.1,565.4 L447.1,575.8 L448.3,569.8 L449.5,564.4 L450.7,559.8 L451.8,562.0 L452.9,564.8 L453.9,567.8 L455.0,570.7 L456.1,566.7 L457.1,563.8 L458.2,570.4 L459.3,577.2 L460.3,574.1 L461.3,570.2 L462.3,566.9 L463.3,563.4 L464.3,560.8 L465.4,564.8 L466.4,569.6 L467.5,574.2 L468.6,577.4 L470.0,570.1 L471.1,575.4 L472.1,579.9 L473.1,571.0 L474.0,563.4 L475.0,556.3 L476.1,553.7 L477.1,552.0 L478.2,549.8 L479.3,548.9 L480.2,556.9 L481.2,565.0 L482.1,571.5 L483.1,566.1 L484.0,559.6 L485.0,552.2 L486.2,553.1 L487.4,552.7 L488.6,550.9 L489.8,545.6 L491.0,537.9 L492.1,531.4 L493.2,532.8 L494.3,533.1 L495.4,532.4 L496.4,533.4 L497.5,532.5 L498.6,531.1 L499.6,529.8 L500.7,529.0 L501.8,530.6 L502.9,530.2 L503.9,532.1 L505.0,532.7 L506.1,537.7 L507.1,544.0 L508.2,539.9 L509.3,535.0 L510.4,529.6 L511.4,526.6 L512.6,528.4 L513.8,530.8 L515.0,531.4 L516.1,530.1 L517.1,528.1 L518.2,527.8 L519.3,525.3 L520.2,526.7 L521.2,528.9 L522.1,531.5 L523.2,530.4 L524.2,528.4 L525.2,527.3 L526.2,527.8 L527.2,526.2 L528.3,525.6 L529.3,523.5 L530.2,523.5 L531.2,524.6 L532.1,524.2 L533.1,523.8 L534.0,525.6 L535.0,525.2 L536.0,525.8 L536.9,524.7 L537.9,526.4 L538.8,525.9 L539.8,528.3 L540.7,528.5 L541.7,529.2 L542.6,530.6 L543.6,532.2 L545.0,528.6 L546.0,530.2 L546.9,532.9 L547.9,534.2 L548.9,532.6 L549.9,531.2 L550.9,529.6 L551.9,528.5 L552.9,527.2 L553.9,528.1 L554.9,529.8 L555.9,529.8 L556.9,531.0 L557.9,531.3 L558.9,535.9 L560.0,539.6 L561.1,544.3 L562.1,548.1 L563.1,547.0 L564.0,544.3 L565.0,541.3 L566.0,543.2 L567.0,545.5 L568.0,545.4 L569.0,548.1 L570.0,548.9 L571.0,557.6 L571.9,566.7 L572.9,574.5 L573.9,577.6 L575.0,580.8 L576.1,576.3 L577.1,570.1 L578.2,566.0 L579.3,560.8 L580.4,563.5 L581.4,566.0 L582.5,558.7 L583.6,551.1 L584.5,553.1 L585.5,554.9 L586.4,558.0 L587.9,571.4 L588.9,572.3 L590.0,573.3 L591.1,575.7 L592.1,576.8 L593.1,570.7 L594.0,564.3 L595.0,558.5 L596.2,562.4 L597.4,566.5 L598.6,569.8 L599.5,572.5 L600.5,574.3 L601.4,577.7 L602.9,561.3 L604.0,558.1 L605.2,555.2 L606.4,554.1 L607.6,549.4 L608.8,545.9 L610.0,541.7 L611.0,544.5 L611.9,546.8 L612.9,549.0 L614.0,547.0 L615.2,546.2 L616.4,543.8 L617.6,548.1 L618.8,551.6 L620.0,556.0 L621.1,548.2 L622.1,541.0 L623.3,546.7 L624.5,551.9 L625.7,557.7 L626.9,553.3 L628.1,549.5 L629.3,545.0 L630.2,541.8 L631.2,538.7 L632.1,534.5 L633.3,539.2 L634.5,545.1 L635.7,548.4 L636.9,548.5 L638.1,547.4 L639.3,545.3 L640.2,544.8 L641.2,543.0 L642.1,540.7 L643.2,544.8 L644.3,548.8 L645.4,551.6 L646.4,556.2 L647.5,553.3 L648.6,551.0 L649.5,556.2 L650.5,561.5 L651.4,566.3 L652.6,562.6 L653.8,557.9 L655.0,553.6 L656.1,549.8 L657.1,546.4 L658.2,543.5 L659.3,540.9 L660.5,544.0 L661.7,548.9 L662.9,552.0 L663.8,554.0 L664.8,555.9 L665.7,557.9 L666.8,549.7 L667.9,541.0 L668.9,548.8 L670.0,555.2 L671.2,561.4 L672.4,568.1 L673.6,575.0 L674.5,570.6 L675.5,568.5 L676.4,564.3 L677.6,564.4 L678.8,565.2 L680.0,566.6 L681.1,557.8 L682.1,550.9 L683.1,549.4 L684.0,546.6 L685.0,544.5 L686.0,542.8 L686.9,541.2 L687.9,539.5 L688.9,537.8 L690.0,536.4 L691.1,534.0 L692.1,532.7 L693.1,533.2 L694.0,534.4 L695.0,534.0 L696.0,534.8 L696.9,534.2 L697.9,534.6 L698.9,542.5 L700.0,550.7 L701.1,546.5 L702.1,542.2 L703.2,537.2 L704.3,533.3 L705.5,537.0 L706.7,540.8 L707.9,544.0 L708.8,543.5 L709.8,540.4 L710.7,539.9 L711.8,543.7 L712.9,546.0 L713.9,550.7 L715.0,555.3 L716.0,559.8 L716.9,563.2 L717.9,567.2 L718.9,563.3 L719.9,560.9 L720.9,555.9 L721.9,552.9 L722.9,548.4 L723.8,552.9 L724.8,557.4 L725.7,559.8 L726.8,557.8 L727.9,554.0 L728.9,551.5 L730.0,547.9 L731.2,551.8 L732.4,557.8 L733.6,561.8 L735.0,562.0 L736.1,575.5 L737.1,590.0 L738.1,583.2 L739.0,576.3 L740.0,569.4 L741.0,581.1 L741.9,592.5 L742.9,604.9 L743.9,600.1 L744.9,598.2 L745.9,595.0 L746.9,590.5 L747.9,588.6 L748.8,595.6 L749.8,603.3 L750.7,609.6 L751.8,608.7 L752.9,607.7 L753.9,607.7 L755.0,605.9 L756.2,606.4 L757.4,607.5 L758.6,608.2 L759.5,605.9 L760.5,604.0 L761.4,603.5 L762.4,603.9 L763.3,606.5 L764.3,606.7 L765.4,598.9 L766.4,591.4 L767.5,593.0 L768.6,595.5 L769.6,598.7 L770.7,600.7 L771.7,598.7 L772.6,596.4 L773.6,595.0 L774.5,593.2 L775.5,590.6 L776.4,589.0 L777.4,590.1 L778.3,593.8 L779.3,595.6 L780.3,595.6 L781.3,594.7 L782.3,593.5 L783.4,592.5 L784.4,593.4 L785.4,591.4 L786.4,591.4 L787.4,589.7 L788.3,588.2 L789.3,587.6 L790.2,585.1 L791.2,581.0 L792.1,578.9 L793.1,580.1 L794.0,582.5 L795.0,584.1 L796.0,581.3 L796.9,578.9 L797.9,576.6 L798.8,581.2 L799.8,583.8 L800.7,586.6 L801.7,587.9 L802.6,588.0 L803.6,587.1 L804.8,589.4 L806.0,592.3 L807.1,595.0 L808.3,593.0 L809.5,590.2 L810.7,588.1 L811.8,591.4 L812.9,595.1 L813.9,598.9 L815.0,601.9 L816.0,603.2 L816.9,605.1 L817.9,607.2 L818.8,608.8 L819.8,610.7 L820.7,612.1 L821.7,609.6 L822.6,608.0 L823.6,603.6 L824.5,601.4 L825.5,598.8 L826.4,596.4 L827.4,598.5 L828.3,602.0 L829.3,605.3 L830.2,607.9 L831.2,610.4 L832.1,613.7 L833.1,615.9 L834.0,618.3 L835.0,619.1 L836.0,618.7 L836.9,619.4 L837.9,619.3 L838.8,618.0 L839.8,617.8 L840.7,616.2 L841.7,612.2 L842.6,608.4 L843.6,603.4 L844.5,605.9 L845.5,608.5 L846.4,609.5 L847.4,604.3 L848.4,599.4 L849.4,595.0 L850.4,590.3 L851.4,585.8 L852.6,588.5 L853.8,591.5 L855.0,594.8 L856.0,595.2 L856.9,596.3 L857.9,596.3 L858.8,605.7 L859.8,612.9 L860.7,622.2 L861.8,623.1 L862.9,623.9 L863.9,625.0 L865.0,626.7 L866.0,627.5 L866.9,627.7 L867.9,626.8 L868.8,626.8 L869.8,627.8 L870.7,628.0 L871.7,625.0 L872.6,622.1 L873.6,620.2 L874.6,618.0 L875.7,617.5 L876.8,616.7 L877.9,616.5 L879.0,612.2 L880.2,608.8 L881.4,604.2 L882.4,608.6 L883.3,613.4 L884.3,619.4 L885.2,619.8 L886.1,619.9 L887.0,620.2 L888.0,621.8 L888.9,623.0 L889.8,623.3 L890.7,623.8 L891.7,621.7 L892.6,619.3 L893.6,615.2 L894.5,604.4 L895.5,594.5 L896.4,584.1 L897.4,578.4 L898.3,571.4 L899.3,566.2 L900.3,564.3 L901.3,562.0 L902.3,559.7 L903.4,559.2 L904.4,556.2 L905.4,555.3 L906.4,552.4 L907.4,560.0 L908.3,568.6 L909.3,575.3 L910.2,579.6 L911.2,581.9 L912.1,584.4 L913.1,587.6 L914.0,591.0 L915.0,594.6 L916.0,589.4 L916.9,582.2 L917.9,577.0 L918.8,572.3 L919.8,569.4 L920.7,563.6 L921.7,569.2 L922.6,574.9 L923.6,581.2 L925.0,566.4 L926.0,567.8 L926.9,569.0 L927.9,570.9 L929.0,574.1 L930.2,576.4 L931.4,579.4 L932.4,579.1 L933.4,577.0 L934.4,574.0 L935.4,573.4 L936.4,571.2 L937.4,578.8 L938.3,586.4 L939.3,593.7 L940.6,598.4 L941.9,603.9 L942.8,597.9 L943.8,593.0 L944.8,585.4 L945.7,580.8 L946.8,584.8 L947.9,590.5 L948.9,596.7 L950.0,602.0 L951.2,594.6 L952.4,587.3 L953.6,581.4 L954.5,577.4 L955.5,574.6 L956.4,569.4 L957.4,573.1 L958.3,577.4 L959.3,579.2 L960.4,574.8 L961.4,570.6 L962.5,565.5 L963.6,559.2 L964.6,556.7 L965.7,554.2 L966.8,553.3 L967.9,549.6 L968.9,546.2 L970.0,542.1 L971.0,540.7 L971.9,540.1 L972.9,540.8 L973.8,545.9 L974.8,551.0 L975.7,557.5 L976.7,550.4 L977.6,543.9 L978.6,537.0 L979.8,539.7 L981.0,541.5 L982.1,542.4 L983.2,542.0 L984.3,539.5 L985.4,539.0 L986.4,538.5 L987.5,544.4 L988.6,549.4 L989.5,548.8 L990.5,549.1 L991.4,549.9 L992.5,560.0 L993.6,570.8 L994.6,581.6 L995.7,594.8 L996.9,590.4 L998.1,586.3 L999.3,581.9 L1000.5,584.0 L1001.7,585.9 L1002.9,588.2 L1004.0,582.1 L1005.2,576.7 L1006.4,569.2 L1007.5,568.0 L1008.6,567.6 L1009.6,565.3 L1010.7,563.5 L1011.8,561.3 L1012.9,560.1 L1013.9,557.5 L1015.0,556.6 L1016.0,561.2 L1016.9,566.1 L1017.9,569.6 L1019.0,575.9 L1020.2,582.6 L1021.4,590.0 L1022.6,582.8 L1023.8,574.7 L1025.0,566.7 L1026.0,567.9 L1026.9,569.3 L1027.9,570.3 L1029.0,567.6 L1030.2,564.9 L1031.4,561.7 L1032.6,556.9 L1033.8,554.4 L1035.0,549.6 L1036.1,551.9 L1037.1,553.3 L1038.2,555.8 L1039.3,556.6 L1040.7,549.5 L1041.7,551.7 L1042.6,553.7 L1043.6,557.1 L1044.5,558.7 L1045.5,560.4 L1046.4,562.7 L1047.4,561.4 L1048.3,558.1 L1049.3,555.2 L1050.2,550.1 L1051.2,543.6 L1052.1,538.0 L1053.2,543.6 L1054.3,551.4 L1055.4,548.3 L1056.4,544.5 L1057.5,540.9 L1058.6,535.6 L1059.8,540.1 L1061.0,543.8 L1062.1,548.0 L1063.3,552.3 L1064.5,554.4 L1065.7,557.9 L1066.8,560.5 L1067.9,564.9 L1068.9,565.6 L1070.0,566.7 L1071.1,569.1 L1072.1,570.8 L1073.2,571.4 L1074.3,574.5 L1075.4,576.6 L1076.4,578.1 L1077.4,573.6 L1078.3,568.4 L1079.3,563.8 L1080.2,565.7 L1081.2,568.3 L1082.1,570.3 L1083.2,560.2 L1084.3,550.5 L1085.5,553.5 L1086.7,556.5 L1087.9,558.0 L1088.8,561.1 L1089.8,563.8 L1090.7,567.7 L1091.9,563.4 L1093.1,558.7 L1094.3,555.0 L1095.4,559.1 L1096.4,562.9 L1097.4,561.0 L1098.3,557.8 L1099.3,555.8 L1100.4,560.2 L1101.4,563.1 L1102.5,566.2 L1103.6,569.7 L1104.6,567.2 L1105.7,562.5 L1106.8,565.1 L1107.9,566.9 L1109.0,564.1 L1110.2,562.1 L1111.4,559.5 L1112.5,564.0 L1113.6,569.5 L1115.0,567.6 L1116.1,570.2 L1117.1,573.4 L1118.1,566.2 L1119.0,556.5 L1120.0,548.4 L1121.2,549.4 L1122.4,551.9 L1123.6,552.8 L1124.5,551.8 L1125.5,551.0 L1126.4,551.5 L1127.4,551.4 L1128.3,551.7 L1129.3,550.0 L1130.2,550.7 L1131.2,550.0 L1132.1,550.0 L1133.2,546.9 L1134.3,544.6 L1135.4,542.5 L1136.4,540.8 L1137.4,540.7 L1138.3,542.8 L1139.3,544.8 L1140.5,543.7 L1141.7,540.9 L1142.9,539.3 L1144.0,536.3 L1145.2,531.8 L1146.4,526.4 L1147.6,528.2 L1148.8,532.4 L1150.0,534.1 L1151.1,542.2 L1152.1,548.8 L1153.1,550.6 L1154.1,550.8 L1155.1,553.4 L1156.1,553.8 L1157.1,555.5 L1158.3,550.6 L1159.5,544.9 L1160.7,538.0 L1161.7,536.2 L1162.6,534.6 L1163.6,532.9 L1164.5,531.5 L1165.4,529.9 L1166.3,529.0 L1167.2,528.8 L1168.2,528.0 L1169.1,525.3 L1170.0,525.1 L1171.0,527.1 L1171.9,527.5 L1172.9,530.6 L1173.8,528.4 L1174.8,528.3 L1175.7,527.2 L1176.9,531.7 L1178.1,535.4 L1179.3,539.9 L1180.2,544.4 L1181.2,548.4 L1182.1,553.1 L1183.1,557.8 L1184.0,562.7 L1185.0,567.0 L1186.1,562.0 L1187.1,555.7 L1188.1,559.3 L1189.0,564.3 L1190.0,568.4 L1191.2,563.7 L1192.4,559.2 L1193.6,555.7 L1194.5,554.1 L1195.5,553.1 L1196.4,552.7 L1197.5,548.9 L1198.6,546.3 L1199.6,543.2 L1200.7,539.2 L1201.8,543.8 L1202.9,546.4 L1203.9,551.1 L1205.0,554.8 L1206.0,560.5 L1206.9,565.9 L1207.9,572.9 L1209.0,582.9 L1210.2,594.1 L1211.4,602.9 L1212.6,600.2 L1213.8,596.4 L1215.0,591.8 L1216.0,590.1 L1216.9,587.1 L1217.9,586.6 L1218.8,583.8 L1219.8,582.7 L1220.7,580.7 L1221.8,578.0 L1222.9,577.7 L1223.9,576.5 L1225.0,573.5 L1226.0,569.0 L1226.9,564.7 L1227.9,558.7 L1228.8,564.0 L1229.8,567.0 L1230.7,572.0 L1231.7,575.1 L1232.6,580.0 L1233.6,585.0 L1234.5,589.5 L1235.5,595.3 L1236.4,601.4 L1237.4,593.5 L1238.3,585.4 L1239.3,578.0 L1240.5,579.9 L1241.7,583.2 L1242.9,584.6 L1243.8,588.3 L1244.8,590.4 L1245.7,594.8 L1246.7,588.8 L1247.6,584.8 L1248.6,580.2 L1249.6,583.3 L1250.7,587.8 L1251.9,579.4 L1253.1,571.6 L1254.3,564.3 L1255.5,564.1 L1256.7,566.8 L1257.9,567.4 L1258.8,573.1 L1259.8,580.1 L1260.7,585.3 L1261.8,595.2 L1262.9,603.0 L1263.9,599.4 L1265.0,596.9 L1266.1,593.1 L1267.1,589.4 L1268.2,597.2 L1269.3,603.6 L1269.3,603.6 L1269.3,517.4Z" fill="#c2383b"/>
<path d="M174.0,517.4 L174.0,539.7 L174.5,537.9 L175.7,537.4 L176.8,532.1 L177.9,528.6 L178.8,527.4 L179.8,525.9 L180.7,525.7 L181.8,524.5 L182.9,524.9 L183.9,523.9 L185.0,523.5 L186.1,523.8 L187.1,524.2 L188.2,522.5 L189.3,522.4 L190.3,522.9 L191.3,523.3 L192.3,522.4 L193.4,521.9 L194.4,522.7 L195.4,520.8 L196.4,522.1 L197.4,521.9 L198.4,522.5 L199.4,523.3 L200.4,524.5 L201.4,526.3 L202.6,524.2 L203.8,524.0 L205.0,523.1 L206.0,522.2 L206.9,522.1 L207.9,520.8 L208.8,520.4 L209.8,520.2 L210.7,520.6 L211.7,520.1 L212.6,519.9 L213.6,520.3 L214.5,520.1 L215.5,519.8 L216.4,520.6 L217.4,520.4 L218.3,519.6 L219.3,520.1 L220.3,520.1 L221.3,520.8 L222.3,520.5 L223.4,519.8 L224.4,521.1 L225.4,519.6 L226.4,520.1 L227.4,521.1 L228.5,520.4 L229.5,521.4 L230.5,520.9 L231.5,522.4 L232.6,523.0 L233.6,523.0 L234.5,523.2 L235.5,521.8 L236.4,522.1 L237.4,521.6 L238.3,521.2 L239.3,520.6 L240.5,521.8 L241.7,522.5 L242.9,522.1 L244.0,524.3 L245.2,525.2 L246.4,528.2 L247.4,528.4 L248.3,529.2 L249.3,529.2 L250.2,528.4 L251.2,528.8 L252.1,529.6 L253.2,527.0 L254.3,526.4 L255.3,525.9 L256.2,525.9 L257.2,525.9 L258.2,527.3 L259.2,526.2 L260.2,526.5 L261.2,526.9 L262.1,527.8 L263.1,526.7 L264.1,527.6 L265.1,528.1 L266.1,529.0 L267.1,529.1 L268.1,531.8 L269.0,533.4 L270.0,536.3 L271.0,536.8 L271.9,538.3 L272.9,539.0 L273.8,538.2 L274.8,538.8 L275.7,539.5 L276.7,542.6 L277.6,546.2 L278.6,549.4 L279.5,547.2 L280.5,545.1 L281.4,544.1 L282.4,546.0 L283.3,548.2 L284.3,550.8 L285.2,546.3 L286.2,541.9 L287.1,538.1 L288.1,542.5 L289.0,545.6 L290.0,551.4 L291.2,550.3 L292.4,549.5 L293.6,548.4 L294.5,546.2 L295.5,544.8 L296.4,542.9 L297.9,557.4 L298.8,554.9 L299.8,553.5 L300.7,552.3 L302.1,545.8 L303.2,551.1 L304.3,555.6 L305.4,541.6 L306.4,527.9 L307.5,531.8 L308.6,536.2 L309.6,534.9 L310.6,535.7 L311.6,534.5 L312.6,532.9 L313.6,532.4 L314.6,531.7 L315.7,530.8 L316.8,529.5 L317.9,529.9 L318.9,532.3 L320.0,533.5 L321.1,531.8 L322.1,529.3 L323.1,529.0 L324.0,529.2 L325.0,528.9 L326.0,529.6 L326.9,528.2 L327.9,527.7 L328.8,528.4 L329.8,526.7 L330.7,525.1 L331.7,524.6 L332.6,522.5 L333.6,522.2 L334.5,523.4 L335.5,523.5 L336.4,523.6 L337.4,523.1 L338.3,523.7 L339.3,523.7 L340.4,524.4 L341.4,523.6 L342.5,523.7 L343.6,522.6 L344.6,523.8 L345.7,526.3 L346.8,528.0 L347.9,529.2 L349.0,526.7 L350.2,524.4 L351.4,521.9 L352.6,521.7 L353.8,522.9 L355.0,523.3 L356.1,522.0 L357.1,521.3 L358.2,521.0 L359.3,520.3 L360.3,521.3 L361.3,521.9 L362.3,521.2 L363.4,522.3 L364.4,522.6 L365.4,522.8 L366.4,521.9 L367.4,521.8 L368.5,522.1 L369.5,522.2 L370.5,522.4 L371.5,523.4 L372.6,524.1 L373.6,524.2 L374.6,522.8 L375.7,522.4 L376.8,522.0 L377.9,520.0 L378.8,521.2 L379.8,521.9 L380.7,521.9 L381.7,522.1 L382.6,521.9 L383.6,521.6 L384.5,523.3 L385.5,523.0 L386.4,524.5 L387.4,525.4 L388.3,524.9 L389.3,525.5 L390.3,526.7 L391.3,526.5 L392.3,525.7 L393.4,525.9 L394.4,526.1 L395.4,527.7 L396.4,527.7 L397.5,527.4 L398.6,529.5 L399.6,530.7 L400.7,531.0 L401.7,530.2 L402.6,530.3 L403.6,529.3 L404.5,528.9 L405.5,530.4 L406.4,529.6 L407.6,531.5 L408.8,534.4 L410.0,535.6 L411.1,534.6 L412.1,532.7 L413.1,533.3 L414.0,535.0 L415.0,536.8 L416.4,548.8 L417.5,550.7 L418.6,551.4 L419.6,552.9 L420.7,553.6 L422.1,560.0 L423.1,558.1 L424.0,557.3 L425.0,556.6 L426.1,558.4 L427.1,558.8 L428.2,560.9 L429.3,561.4 L430.0,567.9 L431.1,564.0 L432.1,559.1 L433.2,568.1 L434.3,575.9 L435.5,569.1 L436.7,564.1 L437.9,556.6 L438.8,560.7 L439.8,564.7 L440.7,568.0 L441.8,564.7 L442.9,562.2 L443.9,559.4 L445.0,556.9 L446.1,565.4 L447.1,575.8 L448.3,569.8 L449.5,564.4 L450.7,559.8 L451.8,562.0 L452.9,564.8 L453.9,567.8 L455.0,570.7 L456.1,566.7 L457.1,563.8 L458.2,570.4 L459.3,577.2 L460.3,574.1 L461.3,570.2 L462.3,566.9 L463.3,563.4 L464.3,560.8 L465.4,564.8 L466.4,569.6 L467.5,574.2 L468.6,577.4 L470.0,570.1 L471.1,575.4 L472.1,579.9 L473.1,571.0 L474.0,563.4 L475.0,556.3 L476.1,553.7 L477.1,552.0 L478.2,549.8 L479.3,548.9 L480.2,556.9 L481.2,565.0 L482.1,571.5 L483.1,566.1 L484.0,559.6 L485.0,552.2 L486.2,553.1 L487.4,552.7 L488.6,550.9 L489.8,545.6 L491.0,537.9 L492.1,531.4 L493.2,532.8 L494.3,533.1 L495.4,532.4 L496.4,533.4 L497.5,532.5 L498.6,531.1 L499.6,529.8 L500.7,529.0 L501.8,530.6 L502.9,530.2 L503.9,532.1 L505.0,532.7 L506.1,537.7 L507.1,544.0 L508.2,539.9 L509.3,535.0 L510.4,529.6 L511.4,526.6 L512.6,528.4 L513.8,530.8 L515.0,531.4 L516.1,530.1 L517.1,528.1 L518.2,527.8 L519.3,525.3 L520.2,526.7 L521.2,528.9 L522.1,531.5 L523.2,530.4 L524.2,528.4 L525.2,527.3 L526.2,527.8 L527.2,526.2 L528.3,525.6 L529.3,523.5 L530.2,523.5 L531.2,524.6 L532.1,524.2 L533.1,523.8 L534.0,525.6 L535.0,525.2 L536.0,525.8 L536.9,524.7 L537.9,526.4 L538.8,525.9 L539.8,528.3 L540.7,528.5 L541.7,529.2 L542.6,530.6 L543.6,532.2 L545.0,528.6 L546.0,530.2 L546.9,532.9 L547.9,534.2 L548.9,532.6 L549.9,531.2 L550.9,529.6 L551.9,528.5 L552.9,527.2 L553.9,528.1 L554.9,529.8 L555.9,529.8 L556.9,531.0 L557.9,531.3 L558.9,535.9 L560.0,539.6 L561.1,544.3 L562.1,548.1 L563.1,547.0 L564.0,544.3 L565.0,541.3 L566.0,543.2 L567.0,545.5 L568.0,545.4 L569.0,548.1 L570.0,548.9 L571.0,557.6 L571.9,566.7 L572.9,574.5 L573.9,577.6 L575.0,580.8 L576.1,576.3 L577.1,570.1 L578.2,566.0 L579.3,560.8 L580.4,563.5 L581.4,566.0 L582.5,558.7 L583.6,551.1 L584.5,553.1 L585.5,554.9 L586.4,558.0 L587.9,571.4 L588.9,572.3 L590.0,573.3 L591.1,575.7 L592.1,576.8 L593.1,570.7 L594.0,564.3 L595.0,558.5 L596.2,562.4 L597.4,566.5 L598.6,569.8 L599.5,572.5 L600.5,574.3 L601.4,577.7 L602.9,561.3 L604.0,558.1 L605.2,555.2 L606.4,554.1 L607.6,549.4 L608.8,545.9 L610.0,541.7 L611.0,544.5 L611.9,546.8 L612.9,549.0 L614.0,547.0 L615.2,546.2 L616.4,543.8 L617.6,548.1 L618.8,551.6 L620.0,556.0 L621.1,548.2 L622.1,541.0 L623.3,546.7 L624.5,551.9 L625.7,557.7 L626.9,553.3 L628.1,549.5 L629.3,545.0 L630.2,541.8 L631.2,538.7 L632.1,534.5 L633.3,539.2 L634.5,545.1 L635.7,548.4 L636.9,548.5 L638.1,547.4 L639.3,545.3 L640.2,544.8 L641.2,543.0 L642.1,540.7 L643.2,544.8 L644.3,548.8 L645.4,551.6 L646.4,556.2 L647.5,553.3 L648.6,551.0 L649.5,556.2 L650.5,561.5 L651.4,566.3 L652.6,562.6 L653.8,557.9 L655.0,553.6 L656.1,549.8 L657.1,546.4 L658.2,543.5 L659.3,540.9 L660.5,544.0 L661.7,548.9 L662.9,552.0 L663.8,554.0 L664.8,555.9 L665.7,557.9 L666.8,549.7 L667.9,541.0 L668.9,548.8 L670.0,555.2 L671.2,561.4 L672.4,568.1 L673.6,575.0 L674.5,570.6 L675.5,568.5 L676.4,564.3 L677.6,564.4 L678.8,565.2 L680.0,566.6 L681.1,557.8 L682.1,550.9 L683.1,549.4 L684.0,546.6 L685.0,544.5 L686.0,542.8 L686.9,541.2 L687.9,539.5 L688.9,537.8 L690.0,536.4 L691.1,534.0 L692.1,532.7 L693.1,533.2 L694.0,534.4 L695.0,534.0 L696.0,534.8 L696.9,534.2 L697.9,534.6 L698.9,542.5 L700.0,550.7 L701.1,546.5 L702.1,542.2 L703.2,537.2 L704.3,533.3 L705.5,537.0 L706.7,540.8 L707.9,544.0 L708.8,543.5 L709.8,540.4 L710.7,539.9 L711.8,543.7 L712.9,546.0 L713.9,550.7 L715.0,555.3 L716.0,559.8 L716.9,563.2 L717.9,567.2 L718.9,563.3 L719.9,560.9 L720.9,555.9 L721.9,552.9 L722.9,548.4 L723.8,552.9 L724.8,557.4 L725.7,559.8 L726.8,557.8 L727.9,554.0 L728.9,551.5 L730.0,547.9 L731.2,551.8 L732.4,557.8 L733.6,561.8 L735.0,562.0 L736.1,575.5 L737.1,590.0 L738.1,583.2 L739.0,576.3 L740.0,569.4 L741.0,581.1 L741.9,592.5 L742.9,604.9 L743.9,600.1 L744.9,598.2 L745.9,595.0 L746.9,590.5 L747.9,588.6 L748.8,595.6 L749.8,603.3 L750.7,609.6 L751.8,608.7 L752.9,607.7 L753.9,607.7 L755.0,605.9 L756.2,606.4 L757.4,607.5 L758.6,608.2 L759.5,605.9 L760.5,604.0 L761.4,603.5 L762.4,603.9 L763.3,606.5 L764.3,606.7 L765.4,598.9 L766.4,591.4 L767.5,593.0 L768.6,595.5 L769.6,598.7 L770.7,600.7 L771.7,598.7 L772.6,596.4 L773.6,595.0 L774.5,593.2 L775.5,590.6 L776.4,589.0 L777.4,590.1 L778.3,593.8 L779.3,595.6 L780.3,595.6 L781.3,594.7 L782.3,593.5 L783.4,592.5 L784.4,593.4 L785.4,591.4 L786.4,591.4 L787.4,589.7 L788.3,588.2 L789.3,587.6 L790.2,585.1 L791.2,581.0 L792.1,578.9 L793.1,580.1 L794.0,582.5 L795.0,584.1 L796.0,581.3 L796.9,578.9 L797.9,576.6 L798.8,581.2 L799.8,583.8 L800.7,586.6 L801.7,587.9 L802.6,588.0 L803.6,587.1 L804.8,589.4 L806.0,592.3 L807.1,595.0 L808.3,593.0 L809.5,590.2 L810.7,588.1 L811.8,591.4 L812.9,595.1 L813.9,598.9 L815.0,601.9 L816.0,603.2 L816.9,605.1 L817.9,607.2 L818.8,608.8 L819.8,610.7 L820.7,612.1 L821.7,609.6 L822.6,608.0 L823.6,603.6 L824.5,601.4 L825.5,598.8 L826.4,596.4 L827.4,598.5 L828.3,602.0 L829.3,605.3 L830.2,607.9 L831.2,610.4 L832.1,613.7 L833.1,615.9 L834.0,618.3 L835.0,619.1 L836.0,618.7 L836.9,619.4 L837.9,619.3 L838.8,618.0 L839.8,617.8 L840.7,616.2 L841.7,612.2 L842.6,608.4 L843.6,603.4 L844.5,605.9 L845.5,608.5 L846.4,609.5 L847.4,604.3 L848.4,599.4 L849.4,595.0 L850.4,590.3 L851.4,585.8 L852.6,588.5 L853.8,591.5 L855.0,594.8 L856.0,595.2 L856.9,596.3 L857.9,596.3 L858.8,605.7 L859.8,612.9 L860.7,622.2 L861.8,623.1 L862.9,623.9 L863.9,625.0 L865.0,626.7 L866.0,627.5 L866.9,627.7 L867.9,626.8 L868.8,626.8 L869.8,627.8 L870.7,628.0 L871.7,625.0 L872.6,622.1 L873.6,620.2 L874.6,618.0 L875.7,617.5 L876.8,616.7 L877.9,616.5 L879.0,612.2 L880.2,608.8 L881.4,604.2 L882.4,608.6 L883.3,613.4 L884.3,619.4 L885.2,619.8 L886.1,619.9 L887.0,620.2 L888.0,621.8 L888.9,623.0 L889.8,623.3 L890.7,623.8 L891.7,621.7 L892.6,619.3 L893.6,615.2 L894.5,604.4 L895.5,594.5 L896.4,584.1 L897.4,578.4 L898.3,571.4 L899.3,566.2 L900.3,564.3 L901.3,562.0 L902.3,559.7 L903.4,559.2 L904.4,556.2 L905.4,555.3 L906.4,552.4 L907.4,560.0 L908.3,568.6 L909.3,575.3 L910.2,579.6 L911.2,581.9 L912.1,584.4 L913.1,587.6 L914.0,591.0 L915.0,594.6 L916.0,589.4 L916.9,582.2 L917.9,577.0 L918.8,572.3 L919.8,569.4 L920.7,563.6 L921.7,569.2 L922.6,574.9 L923.6,581.2 L925.0,566.4 L926.0,567.8 L926.9,569.0 L927.9,570.9 L929.0,574.1 L930.2,576.4 L931.4,579.4 L932.4,579.1 L933.4,577.0 L934.4,574.0 L935.4,573.4 L936.4,571.2 L937.4,578.8 L938.3,586.4 L939.3,593.7 L940.6,598.4 L941.9,603.9 L942.8,597.9 L943.8,593.0 L944.8,585.4 L945.7,580.8 L946.8,584.8 L947.9,590.5 L948.9,596.7 L950.0,602.0 L951.2,594.6 L952.4,587.3 L953.6,581.4 L954.5,577.4 L955.5,574.6 L956.4,569.4 L957.4,573.1 L958.3,577.4 L959.3,579.2 L960.4,574.8 L961.4,570.6 L962.5,565.5 L963.6,559.2 L964.6,556.7 L965.7,554.2 L966.8,553.3 L967.9,549.6 L968.9,546.2 L970.0,542.1 L971.0,540.7 L971.9,540.1 L972.9,540.8 L973.8,545.9 L974.8,551.0 L975.7,557.5 L976.7,550.4 L977.6,543.9 L978.6,537.0 L979.8,539.7 L981.0,541.5 L982.1,542.4 L983.2,542.0 L984.3,539.5 L985.4,539.0 L986.4,538.5 L987.5,544.4 L988.6,549.4 L989.5,548.8 L990.5,549.1 L991.4,549.9 L992.5,560.0 L993.6,570.8 L994.6,581.6 L995.7,594.8 L996.9,590.4 L998.1,586.3 L999.3,581.9 L1000.5,584.0 L1001.7,585.9 L1002.9,588.2 L1004.0,582.1 L1005.2,576.7 L1006.4,569.2 L1007.5,568.0 L1008.6,567.6 L1009.6,565.3 L1010.7,563.5 L1011.8,561.3 L1012.9,560.1 L1013.9,557.5 L1015.0,556.6 L1016.0,561.2 L1016.9,566.1 L1017.9,569.6 L1019.0,575.9 L1020.2,582.6 L1021.4,590.0 L1022.6,582.8 L1023.8,574.7 L1025.0,566.7 L1026.0,567.9 L1026.9,569.3 L1027.9,570.3 L1029.0,567.6 L1030.2,564.9 L1031.4,561.7 L1032.6,556.9 L1033.8,554.4 L1035.0,549.6 L1036.1,551.9 L1037.1,553.3 L1038.2,555.8 L1039.3,556.6 L1040.7,549.5 L1041.7,551.7 L1042.6,553.7 L1043.6,557.1 L1044.5,558.7 L1045.5,560.4 L1046.4,562.7 L1047.4,561.4 L1048.3,558.1 L1049.3,555.2 L1050.2,550.1 L1051.2,543.6 L1052.1,538.0 L1053.2,543.6 L1054.3,551.4 L1055.4,548.3 L1056.4,544.5 L1057.5,540.9 L1058.6,535.6 L1059.8,540.1 L1061.0,543.8 L1062.1,548.0 L1063.3,552.3 L1064.5,554.4 L1065.7,557.9 L1066.8,560.5 L1067.9,564.9 L1068.9,565.6 L1070.0,566.7 L1071.1,569.1 L1072.1,570.8 L1073.2,571.4 L1074.3,574.5 L1075.4,576.6 L1076.4,578.1 L1077.4,573.6 L1078.3,568.4 L1079.3,563.8 L1080.2,565.7 L1081.2,568.3 L1082.1,570.3 L1083.2,560.2 L1084.3,550.5 L1085.5,553.5 L1086.7,556.5 L1087.9,558.0 L1088.8,561.1 L1089.8,563.8 L1090.7,567.7 L1091.9,563.4 L1093.1,558.7 L1094.3,555.0 L1095.4,559.1 L1096.4,562.9 L1097.4,561.0 L1098.3,557.8 L1099.3,555.8 L1100.4,560.2 L1101.4,563.1 L1102.5,566.2 L1103.6,569.7 L1104.6,567.2 L1105.7,562.5 L1106.8,565.1 L1107.9,566.9 L1109.0,564.1 L1110.2,562.1 L1111.4,559.5 L1112.5,564.0 L1113.6,569.5 L1115.0,567.6 L1116.1,570.2 L1117.1,573.4 L1118.1,566.2 L1119.0,556.5 L1120.0,548.4 L1121.2,549.4 L1122.4,551.9 L1123.6,552.8 L1124.5,551.8 L1125.5,551.0 L1126.4,551.5 L1127.4,551.4 L1128.3,551.7 L1129.3,550.0 L1130.2,550.7 L1131.2,550.0 L1132.1,550.0 L1133.2,546.9 L1134.3,544.6 L1135.4,542.5 L1136.4,540.8 L1137.4,540.7 L1138.3,542.8 L1139.3,544.8 L1140.5,543.7 L1141.7,540.9 L1142.9,539.3 L1144.0,536.3 L1145.2,531.8 L1146.4,526.4 L1147.6,528.2 L1148.8,532.4 L1150.0,534.1 L1151.1,542.2 L1152.1,548.8 L1153.1,550.6 L1154.1,550.8 L1155.1,553.4 L1156.1,553.8 L1157.1,555.5 L1158.3,550.6 L1159.5,544.9 L1160.7,538.0 L1161.7,536.2 L1162.6,534.6 L1163.6,532.9 L1164.5,531.5 L1165.4,529.9 L1166.3,529.0 L1167.2,528.8 L1168.2,528.0 L1169.1,525.3 L1170.0,525.1 L1171.0,527.1 L1171.9,527.5 L1172.9,530.6 L1173.8,528.4 L1174.8,528.3 L1175.7,527.2 L1176.9,531.7 L1178.1,535.4 L1179.3,539.9 L1180.2,544.4 L1181.2,548.4 L1182.1,553.1 L1183.1,557.8 L1184.0,562.7 L1185.0,567.0 L1186.1,562.0 L1187.1,555.7 L1188.1,559.3 L1189.0,564.3 L1190.0,568.4 L1191.2,563.7 L1192.4,559.2 L1193.6,555.7 L1194.5,554.1 L1195.5,553.1 L1196.4,552.7 L1197.5,548.9 L1198.6,546.3 L1199.6,543.2 L1200.7,539.2 L1201.8,543.8 L1202.9,546.4 L1203.9,551.1 L1205.0,554.8 L1206.0,560.5 L1206.9,565.9 L1207.9,572.9 L1209.0,582.9 L1210.2,594.1 L1211.4,602.9 L1212.6,600.2 L1213.8,596.4 L1215.0,591.8 L1216.0,590.1 L1216.9,587.1 L1217.9,586.6 L1218.8,583.8 L1219.8,582.7 L1220.7,580.7 L1221.8,578.0 L1222.9,577.7 L1223.9,576.5 L1225.0,573.5 L1226.0,569.0 L1226.9,564.7 L1227.9,558.7 L1228.8,564.0 L1229.8,567.0 L1230.7,572.0 L1231.7,575.1 L1232.6,580.0 L1233.6,585.0 L1234.5,589.5 L1235.5,595.3 L1236.4,601.4 L1237.4,593.5 L1238.3,585.4 L1239.3,578.0 L1240.5,579.9 L1241.7,583.2 L1242.9,584.6 L1243.8,588.3 L1244.8,590.4 L1245.7,594.8 L1246.7,588.8 L1247.6,584.8 L1248.6,580.2 L1249.6,583.3 L1250.7,587.8 L1251.9,579.4 L1253.1,571.6 L1254.3,564.3 L1255.5,564.1 L1256.7,566.8 L1257.9,567.4 L1258.8,573.1 L1259.8,580.1 L1260.7,585.3 L1261.8,595.2 L1262.9,603.0 L1263.9,599.4 L1265.0,596.9 L1266.1,593.1 L1267.1,589.4 L1268.2,597.2 L1269.3,603.6 L1269.3,603.6 L1269.3,517.4" fill="none" stroke="#ef4444" stroke-width="2.1" stroke-linejoin="round"/>
<line x1="173.3" x2="1269.6" y1="445.0" y2="445.0" stroke="#ffffff" stroke-opacity="0.035" stroke-width="2"/>
<line x1="173.3" x2="1269.6" y1="590.0" y2="590.0" stroke="#ffffff" stroke-opacity="0.035" stroke-width="2"/>
<line x1="119" x2="1323" y1="420.5" y2="420.5" stroke="#e8e8e8" stroke-width="1.15"/>
<line x1="119" x2="1323" y1="469.5" y2="469.5" stroke="#e8e8e8" stroke-width="1.15"/>
<line x1="119" x2="1323" y1="517.5" y2="517.5" stroke="#e8e8e8" stroke-width="1.15"/>
<line x1="119" x2="1323" y1="566.5" y2="566.5" stroke="#e8e8e8" stroke-width="1.15"/>
<line x1="119" x2="1323" y1="614.5" y2="614.5" stroke="#e8e8e8" stroke-width="1.15"/>
<rect x="119" y="728.0" width="1204" height="3" fill="#000308" fill-opacity="0.55"/>
<rect x="119" y="789.0" width="1204" height="3" fill="#000308" fill-opacity="0.55"/>
<rect x="119" y="850.0" width="1204" height="3" fill="#000308" fill-opacity="0.55"/>
<rect x="119" y="911.0" width="1204" height="3" fill="#000308" fill-opacity="0.55"/>
<rect x="173.6" y="729.6" width="1095.5" height="14.199999999999932" fill="#22c55e" fill-opacity="0.25"/>
<line x1="173.6" x2="1269.1" y1="743.8" y2="743.8" stroke="#22c55e" stroke-opacity="0.42" stroke-width="1.2"/>
<line x1="173.6" x2="173.6" y1="729.6" y2="743.8" stroke="#22c55e" stroke-opacity="0.55" stroke-width="1.3"/>
<path d="M173.6,729.6 L173.6,730.8 L381.0,730.8 L381.5,733.4 L741.4,733.4 L741.6,731.3 L748.6,731.3 L749.3,738.6 L750.7,739.3 L751.4,745.7 L752.6,746.4 L755.7,797.1 L757.9,797.9 L758.6,812.1 L760.7,812.9 L761.7,819.3 L765.7,820.0 L766.4,826.4 L767.9,827.1 L768.6,834.3 L803.6,834.3 L804.3,841.4 L850.0,841.7 L850.3,848.6 L858.6,848.6 L859.3,855.7 L861.1,856.4 L861.7,863.6 L863.1,864.0 L865.0,877.9 L867.1,878.6 L867.9,885.7 L883.6,885.7 L885.0,900.7 L887.1,901.4 L887.9,907.9 L937.9,907.9 L938.6,914.3 L941.4,915.0 L941.9,922.1 L947.9,922.6 L948.6,929.7 L1021.4,929.7 L1022.1,932.1 L1076.6,932.1 L1077.5,929.8 L1177.5,929.8 L1178.4,927.5 L1209.6,927.5 L1210.5,934.3 L1211.4,942.3 L1215.9,942.3 L1216.8,949.5 L1226.6,949.5 L1227.5,897.7 L1234.6,897.7 L1235.2,905.4 L1243.6,905.4 L1244.5,912.9 L1260.5,912.9 L1261.4,919.6 L1263.2,920.9 L1264.1,927.5 L1267.7,927.5 L1268.9,935.2 L1269.1,935.2 L1269.1,729.6Z" fill="#f43f3f" fill-opacity="0.23"/>
<path d="M173.6,730.8 L381.0,730.8 L381.5,733.4 L741.4,733.4 L741.6,731.3 L748.6,731.3 L749.3,738.6 L750.7,739.3 L751.4,745.7 L752.6,746.4 L755.7,797.1 L757.9,797.9 L758.6,812.1 L760.7,812.9 L761.7,819.3 L765.7,820.0 L766.4,826.4 L767.9,827.1 L768.6,834.3 L803.6,834.3 L804.3,841.4 L850.0,841.7 L850.3,848.6 L858.6,848.6 L859.3,855.7 L861.1,856.4 L861.7,863.6 L863.1,864.0 L865.0,877.9 L867.1,878.6 L867.9,885.7 L883.6,885.7 L885.0,900.7 L887.1,901.4 L887.9,907.9 L937.9,907.9 L938.6,914.3 L941.4,915.0 L941.9,922.1 L947.9,922.6 L948.6,929.7 L1021.4,929.7 L1022.1,932.1 L1076.6,932.1 L1077.5,929.8 L1177.5,929.8 L1178.4,927.5 L1209.6,927.5 L1210.5,934.3 L1211.4,942.3 L1215.9,942.3 L1216.8,949.5 L1226.6,949.5 L1227.5,897.7 L1234.6,897.7 L1235.2,905.4 L1243.6,905.4 L1244.5,912.9 L1260.5,912.9 L1261.4,919.6 L1263.2,920.9 L1264.1,927.5 L1267.7,927.5 L1268.9,935.2 L1269.1,935.2" fill="none" stroke="#ef4444" stroke-opacity="0.4" stroke-width="1.3"/>
<line x1="1269.1" x2="1269.1" y1="729.6" y2="935" stroke="#ef4444" stroke-opacity="0.3" stroke-width="1.3"/>
<line x1="119" x2="1323" y1="729.5" y2="729.5" stroke="#e8e8e8" stroke-width="1.15"/>
<line x1="119" x2="1323" y1="790.5" y2="790.5" stroke="#e8e8e8" stroke-width="1.15"/>
<line x1="119" x2="1323" y1="851.5" y2="851.5" stroke="#e8e8e8" stroke-width="1.15"/>
<line x1="119" x2="1323" y1="912.5" y2="912.5" stroke="#e8e8e8" stroke-width="1.15"/>
<rect x="119" y="1108.0" width="1204" height="3" fill="#000308" fill-opacity="0.55"/>
<rect x="119" y="1215.0" width="1204" height="3" fill="#000308" fill-opacity="0.55"/>
<rect x="119" y="1323.0" width="1204" height="3" fill="#000308" fill-opacity="0.55"/>
<line x1="119" x2="1323" y1="1109.5" y2="1109.5" stroke="#e8e8e8" stroke-width="1.15"/>
<line x1="119" x2="1323" y1="1216.5" y2="1216.5" stroke="#e8e8e8" stroke-width="1.15"/>
<line x1="119" x2="1323" y1="1324.5" y2="1324.5" stroke="#e8e8e8" stroke-width="1.15"/>
<path d="M173.1,1205.7 C174.6,1205.9 179.6,1206.8 182.1,1206.8 C184.7,1206.8 186.2,1206.3 188.6,1205.7 C190.9,1205.1 193.0,1203.1 196.1,1203.1 C199.1,1203.1 203.4,1205.9 206.8,1205.7 C210.2,1205.5 213.2,1202.6 216.4,1201.9 C219.6,1201.1 222.5,1202.0 226.1,1201.0 C229.6,1200.0 233.0,1196.7 237.9,1196.1 C242.7,1195.4 249.6,1197.4 255.0,1197.1 C260.4,1196.9 265.4,1194.8 270.0,1194.4 C274.6,1193.9 278.9,1194.3 282.9,1194.6 C286.8,1194.9 290.0,1195.2 293.6,1196.1 C297.1,1196.9 300.7,1199.5 304.3,1199.7 C307.9,1199.9 311.4,1197.8 315.0,1197.1 C318.6,1196.5 322.1,1196.5 325.7,1196.1 C329.3,1195.6 333.2,1194.8 336.4,1194.6 C339.6,1194.4 341.8,1194.5 345.0,1195.0 C348.2,1195.5 352.1,1197.8 355.7,1197.6 C359.3,1197.4 363.2,1195.2 366.4,1193.9 C369.6,1192.6 372.1,1191.1 375.0,1189.6 C377.9,1188.2 380.4,1186.7 383.6,1185.4 C386.8,1184.0 391.1,1182.2 394.3,1181.7 C397.5,1181.2 399.6,1182.2 402.9,1182.1 C406.1,1182.1 409.6,1181.1 413.6,1181.5 C417.5,1181.9 423.4,1184.0 426.4,1184.3 C429.5,1184.6 428.9,1183.1 431.8,1183.2 C434.6,1183.3 440.2,1184.7 443.6,1184.7 C447.0,1184.7 450.2,1183.5 452.1,1183.2 C454.0,1183.0 453.1,1182.9 455.0,1183.2 C456.9,1183.6 460.9,1184.6 463.6,1185.4 C466.2,1186.1 469.3,1187.8 471.1,1187.9 C472.9,1188.1 472.3,1186.6 474.3,1186.4 C476.2,1186.2 480.4,1186.6 482.9,1186.9 C485.4,1187.1 486.8,1188.4 489.3,1188.1 C491.8,1187.9 495.4,1185.8 497.9,1185.4 C500.4,1185.0 501.8,1185.4 504.3,1185.8 C506.8,1186.2 509.6,1187.6 512.9,1187.9 C516.1,1188.3 520.0,1188.2 523.6,1187.9 C527.1,1187.7 531.4,1186.7 534.3,1186.4 C537.1,1186.2 538.6,1186.2 540.7,1186.4 C542.9,1186.6 544.3,1187.6 547.1,1187.7 C550.0,1187.8 555.0,1187.0 557.9,1187.1 C560.7,1187.1 561.8,1187.6 564.3,1188.1 C566.8,1188.7 569.6,1190.0 572.9,1190.3 C576.1,1190.5 580.0,1189.8 583.6,1189.6 C587.1,1189.5 591.4,1189.6 594.3,1189.2 C597.1,1188.9 598.2,1188.4 600.7,1187.5 C603.2,1186.6 606.1,1184.9 609.3,1183.9 C612.5,1182.8 617.1,1181.5 620.0,1181.1 C622.9,1180.6 623.9,1181.0 626.4,1181.3 C628.9,1181.5 632.5,1182.4 635.0,1182.6 C637.5,1182.7 638.6,1181.8 641.4,1182.1 C644.3,1182.5 648.9,1184.6 652.1,1184.9 C655.4,1185.2 657.9,1184.0 660.7,1183.9 C663.6,1183.7 666.8,1183.6 669.3,1183.9 C671.8,1184.1 673.6,1185.1 675.7,1185.4 C677.9,1185.6 679.6,1185.6 682.1,1185.4 C684.6,1185.1 687.5,1183.9 690.7,1183.6 C693.9,1183.4 698.6,1183.9 701.4,1183.6 C704.3,1183.4 705.5,1182.4 707.9,1182.1 C710.2,1181.9 712.9,1181.9 715.4,1182.1 C717.9,1182.4 719.8,1183.4 722.9,1183.9 C725.9,1184.3 730.0,1184.6 733.6,1184.9 C737.1,1185.3 742.4,1185.9 744.3,1186.0 C746.2,1186.1 743.9,1185.8 745.0,1185.7 C746.1,1185.7 749.3,1185.2 750.7,1185.7 C752.1,1186.2 752.6,1187.4 753.6,1188.6 C754.5,1189.8 755.5,1191.4 756.4,1192.9 C757.4,1194.3 758.2,1195.0 759.3,1197.1 C760.4,1199.3 761.7,1203.7 762.9,1205.7 C764.0,1207.7 764.9,1208.1 766.4,1209.3 C768.0,1210.5 770.5,1212.2 772.1,1212.9 C773.8,1213.5 775.0,1212.8 776.4,1213.3 C777.9,1213.8 779.3,1215.8 780.7,1215.7 C782.1,1215.6 783.6,1214.3 785.0,1212.9 C786.4,1211.4 787.4,1208.6 789.3,1207.1 C791.2,1205.7 794.0,1204.1 796.4,1204.0 C798.8,1203.9 801.0,1206.1 803.6,1206.4 C806.2,1206.7 809.8,1205.4 812.1,1205.7 C814.5,1206.1 815.5,1207.6 817.9,1208.6 C820.2,1209.5 823.8,1211.4 826.4,1211.4 C829.0,1211.4 830.7,1209.3 833.6,1208.6 C836.4,1207.9 840.5,1208.0 843.6,1207.1 C846.7,1206.3 849.5,1203.8 852.1,1203.6 C854.8,1203.3 857.6,1204.6 859.3,1205.7 C861.0,1206.8 861.0,1206.9 862.1,1210.0 C863.3,1213.1 865.0,1218.8 866.4,1224.3 C867.9,1229.8 869.3,1237.6 870.7,1242.9 C872.1,1248.1 873.6,1253.0 875.0,1255.7 C876.4,1258.5 878.0,1258.8 879.3,1259.3 C880.6,1259.8 881.7,1257.0 882.9,1258.6 C884.0,1260.1 885.2,1264.8 886.4,1268.6 C887.6,1272.4 888.7,1276.8 890.0,1281.4 C891.3,1286.1 892.9,1296.2 894.3,1296.4 C895.7,1296.7 897.3,1288.7 898.6,1282.9 C899.9,1277.0 900.7,1268.0 902.1,1261.4 C903.6,1254.9 905.7,1246.3 907.1,1243.6 C908.6,1240.8 909.3,1242.3 910.7,1245.0 C912.1,1247.7 914.3,1257.7 915.7,1260.0 C917.1,1262.3 918.0,1258.7 919.3,1258.6 C920.6,1258.5 922.1,1259.6 923.6,1259.3 C925.0,1258.9 926.4,1255.8 927.9,1256.4 C929.3,1257.0 931.0,1261.5 932.1,1262.9 C933.3,1264.2 934.0,1264.4 935.0,1264.3 C936.0,1264.2 936.2,1261.8 937.9,1262.1 C939.5,1262.5 943.0,1263.8 945.0,1266.4 C947.0,1269.0 948.3,1276.1 950.0,1277.9 C951.7,1279.6 953.3,1277.0 955.0,1277.1 C956.7,1277.3 958.6,1279.3 960.0,1278.6 C961.4,1277.9 962.3,1274.0 963.6,1272.9 C964.9,1271.7 966.2,1273.2 967.9,1271.4 C969.5,1269.6 971.7,1265.2 973.6,1262.1 C975.5,1259.0 977.4,1255.6 979.3,1252.9 C981.2,1250.1 983.1,1248.3 985.0,1245.7 C986.9,1243.1 989.2,1237.9 990.7,1237.1 C992.3,1236.4 992.9,1236.2 994.3,1241.4 C995.7,1246.7 997.5,1258.3 999.3,1268.6 C1001.1,1278.8 1003.6,1296.5 1005.0,1302.9 C1006.4,1309.2 1006.4,1305.0 1007.9,1306.4 C1009.3,1307.9 1011.9,1308.9 1013.6,1311.4 C1015.2,1313.9 1016.4,1317.4 1017.9,1321.4 C1019.3,1325.5 1020.5,1333.2 1022.1,1335.7 C1023.8,1338.2 1026.2,1337.6 1027.9,1336.4 C1029.5,1335.2 1030.7,1331.5 1032.1,1328.6 C1033.6,1325.6 1035.0,1320.0 1036.4,1318.6 C1037.9,1317.1 1039.3,1320.7 1040.7,1320.0 C1042.1,1319.3 1043.2,1316.0 1045.0,1314.3 C1046.8,1312.6 1049.8,1315.7 1051.4,1310.0 C1053.1,1304.3 1053.7,1291.0 1055.0,1280.0 C1056.3,1269.0 1057.9,1256.9 1059.3,1244.3 C1060.7,1231.7 1062.0,1212.6 1063.6,1204.3 C1065.1,1196.0 1067.1,1196.0 1068.6,1194.3 C1070.0,1192.6 1070.0,1195.1 1072.3,1194.3 C1074.6,1193.4 1079.7,1192.3 1082.6,1189.1 C1085.4,1186.0 1087.4,1183.1 1089.4,1175.4 C1091.4,1167.7 1092.3,1149.9 1094.6,1142.9 C1096.9,1135.9 1100.6,1132.0 1103.1,1133.4 C1105.7,1134.9 1107.6,1143.6 1110.0,1151.4 C1112.4,1159.3 1115.4,1176.7 1117.7,1180.6 C1120.0,1184.4 1121.6,1176.0 1123.7,1174.6 C1125.9,1173.1 1128.9,1171.6 1130.6,1172.0 C1132.3,1172.4 1132.7,1176.9 1134.0,1177.1 C1135.3,1177.4 1136.0,1179.4 1138.3,1173.7 C1140.6,1168.0 1145.6,1148.9 1147.7,1142.9 C1149.9,1136.9 1149.6,1136.3 1151.1,1137.7 C1152.7,1139.1 1155.1,1148.3 1157.1,1151.4 C1159.1,1154.6 1160.7,1158.6 1163.1,1156.6 C1165.6,1154.6 1169.1,1140.9 1171.7,1139.4 C1174.3,1138.0 1176.0,1143.7 1178.6,1148.0 C1181.1,1152.3 1184.9,1160.0 1187.1,1165.1 C1189.4,1170.3 1190.6,1176.1 1192.3,1178.9 C1194.0,1181.6 1195.4,1183.1 1197.4,1181.4 C1199.4,1179.7 1202.7,1170.4 1204.3,1168.6 C1205.9,1166.7 1205.4,1163.6 1206.9,1170.3 C1208.3,1177.0 1210.7,1205.4 1212.9,1208.9 C1215.0,1212.3 1217.4,1206.1 1219.7,1190.9 C1222.0,1175.6 1224.6,1134.3 1226.6,1117.1 C1228.6,1100.0 1229.7,1098.6 1231.7,1088.0 C1233.7,1077.4 1236.3,1056.6 1238.6,1053.7 C1240.9,1050.9 1243.1,1067.0 1245.4,1070.9 C1247.7,1074.7 1250.3,1076.3 1252.3,1076.9 C1254.3,1077.4 1255.9,1073.9 1257.4,1074.3 C1259.0,1074.7 1260.0,1074.6 1261.7,1079.4 C1263.4,1084.3 1266.5,1098.6 1267.7,1103.4 C1268.9,1108.3 1268.9,1107.7 1269.1,1108.6" fill="none" stroke="#22e06a" stroke-width="3.2" stroke-linejoin="round" stroke-linecap="round"/>
<path d="M174.4,1202.1 L280.7,1202.5 L282.9,1204.6 L370.7,1204.0 L374.0,1205.7 L385.7,1207.4 L413.6,1207.4 L417.9,1207.9 L439.3,1207.9 L443.6,1209.1 L519.0,1209.6 L605.0,1207.9 L701.0,1207.4 L750.0,1207.9 L753.6,1207.1 L759.3,1205.0 L817.0,1204.7 L862.0,1205.7 L868.0,1204.6 L1000.0,1205.4 L1135.0,1208.6 L1269.1,1208.9 L1269.1,1352.0 L174.4,1352.0Z" fill="#3b82f6" fill-opacity="0.17"/>
<path d="M174.4,1202.1 L280.7,1202.5 L282.9,1204.6 L370.7,1204.0 L374.0,1205.7 L385.7,1207.4 L413.6,1207.4 L417.9,1207.9 L439.3,1207.9 L443.6,1209.1 L519.0,1209.6 L605.0,1207.9 L701.0,1207.4 L750.0,1207.9 L753.6,1207.1 L759.3,1205.0 L817.0,1204.7 L862.0,1205.7 L868.0,1204.6 L1000.0,1205.4 L1135.0,1208.6 L1269.1,1208.9" fill="none" stroke="#3b82f6" stroke-opacity="0.25" stroke-width="1.3"/>
<line x1="174.4" x2="174.4" y1="1202" y2="1352" stroke="#3b82f6" stroke-opacity="0.25" stroke-width="1.3"/>
<line x1="1269.1" x2="1269.1" y1="1208" y2="1352" stroke="#3b82f6" stroke-opacity="0.25" stroke-width="1.3"/>
<g font-family="Liberation Sans, sans-serif" opacity="0.999" style="will-change:transform">
<text transform="translate(118.99,40.00) scale(1.1063,1)" font-size="25.55" font-weight="bold" fill="#f0f0f0">BTCUSD Price</text>
<text transform="translate(120.14,373.00) scale(1.1830,1)" font-size="25.55" font-weight="bold" fill="#f0f0f0">AI Signal Strength</text>
<text transform="translate(118.91,694.30) scale(1.1565,1)" font-size="25.55" font-weight="bold" fill="#f0f0f0">Bot Position Size (USD)</text>
<text transform="translate(118.90,1015.70) scale(1.1610,1)" font-size="25.55" font-weight="bold" fill="#f0f0f0">Balance (USD) + Accuracy</text>
<text transform="translate(498.21,39.90) scale(1.1398,1)" font-size="23.27" font-weight="bold" fill="#e2e2e2">Equity (7D): 02/09/2026 - 02/16/2026</text>
<text transform="translate(1113.04,1015.90) scale(1.0835,1)" font-size="22.08" font-weight="normal" fill="#c9c9c9">Accuracy now: 46%</text>
<text transform="translate(26.23,118.90) scale(1.0288,1)" font-size="22.94" font-weight="normal" fill="#c9c9c9">$70,000</text>
<text transform="translate(26.23,199.90) scale(1.0288,1)" font-size="22.94" font-weight="normal" fill="#c9c9c9">$68,000</text>
<text transform="translate(26.23,281.90) scale(1.0288,1)" font-size="22.94" font-weight="normal" fill="#c9c9c9">$66,000</text>
<text transform="translate(65.31,427.90) scale(1.0034,1)" font-size="22.94" font-weight="normal" fill="#c9c9c9">80%</text>
<text transform="translate(65.35,476.90) scale(1.0026,1)" font-size="22.94" font-weight="normal" fill="#c9c9c9">40%</text>
<text transform="translate(78.73,524.90) scale(0.9853,1)" font-size="22.94" font-weight="normal" fill="#c9c9c9">0%</text>
<text transform="translate(57.23,573.90) scale(1.0116,1)" font-size="22.94" font-weight="normal" fill="#c9c9c9">-40%</text>
<text transform="translate(57.23,621.90) scale(1.0116,1)" font-size="22.94" font-weight="normal" fill="#c9c9c9">-80%</text>
<text transform="translate(86.64,736.90) scale(0.9739,1)" font-size="22.94" font-weight="normal" fill="#c9c9c9">$0</text>
<text transform="translate(52.18,797.90) scale(1.0105,1)" font-size="22.94" font-weight="normal" fill="#c9c9c9">$-250</text>
<text transform="translate(52.18,858.90) scale(1.0105,1)" font-size="22.94" font-weight="normal" fill="#c9c9c9">$-500</text>
<text transform="translate(52.18,919.90) scale(1.0105,1)" font-size="22.94" font-weight="normal" fill="#c9c9c9">$-750</text>
<text transform="translate(40.10,1116.90) scale(1.0185,1)" font-size="22.94" font-weight="normal" fill="#c9c9c9">$1,275</text>
<text transform="translate(39.68,1223.90) scale(1.0237,1)" font-size="22.94" font-weight="normal" fill="#c9c9c9">$1,260</text>
<text transform="translate(40.10,1331.90) scale(1.0185,1)" font-size="22.94" font-weight="normal" fill="#c9c9c9">$1,245</text>
<text transform="translate(1329.66,1046.70) scale(1.0128,1)" font-size="22.94" font-weight="normal" fill="#c9c9c9">100%</text>
<text transform="translate(1330.25,1124.70) scale(1.0002,1)" font-size="22.94" font-weight="normal" fill="#c9c9c9">75%</text>
<text transform="translate(1330.48,1202.70) scale(0.9974,1)" font-size="22.94" font-weight="normal" fill="#c9c9c9">50%</text>
<text transform="translate(1330.25,1280.70) scale(1.0050,1)" font-size="22.94" font-weight="normal" fill="#c9c9c9">25%</text>
<text transform="translate(1330.50,1358.70) scale(0.9853,1)" font-size="22.94" font-weight="normal" fill="#c9c9c9">0%</text>
</g>
</svg>
</body></html>
